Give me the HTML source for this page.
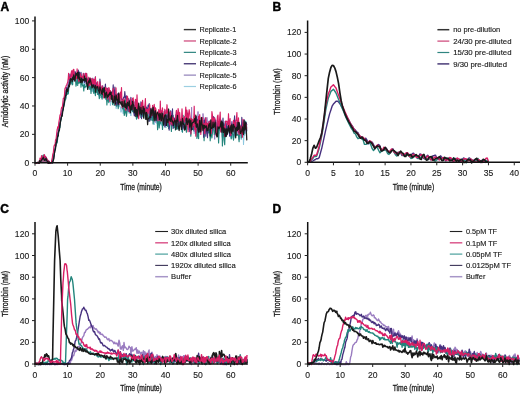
<!DOCTYPE html>
<html><head><meta charset="utf-8"><style>html,body{margin:0;padding:0;background:#fff;}svg{display:block;filter:blur(0.3px);}</style></head>
<body><svg width="520" height="394" viewBox="0 0 520 394" font-family="Liberation Sans, sans-serif">
<rect width="520" height="394" fill="#fff"/>
<path d="M39.6 162.7L41.2 160.1L42.5 158.2L43.8 156.2L45.1 156.7L46.4 157.9L47.7 160.4L49.0 162.1L50.0 162.7Z" fill="#7a2a5e" opacity="0.75"/>
<path d="M35.0 162.9L35.6 162.8L36.1 162.8L36.7 162.7L37.2 162.7L37.8 162.7L38.3 162.6L38.9 162.6L39.2 162.3L39.4 162.8L40.0 162.2L40.5 161.5L41.1 160.4L41.5 159.6L41.7 160.1L42.2 159.4L42.8 157.6L43.3 158.4L43.5 156.9L43.9 156.6L44.4 158.0L45.0 158.4L45.5 158.5L45.8 157.5L46.1 158.6L46.6 160.8L47.2 160.5L47.8 160.3L48.3 161.2L48.4 161.5L48.9 162.4L49.4 163.4L50.0 162.6L50.0 162.7L50.5 162.7L51.1 162.4L51.6 162.7L52.2 160.1L52.7 157.6L53.3 155.4L53.9 153.4L54.4 150.9L55.0 146.8L55.5 144.6L56.1 143.2L56.6 138.9L57.2 137.4L57.5 137.6L57.7 134.3L58.3 132.3L58.8 130.7L59.4 125.9L60.0 124.0L60.5 121.2L61.1 117.3L61.6 117.4L62.2 113.6L62.7 109.9L63.3 106.3L63.8 104.4L64.4 102.0L64.9 99.2L65.5 95.3L65.7 93.7L66.1 94.7L66.6 93.8L67.2 90.2L67.7 89.0L68.3 88.3L68.8 83.7L68.9 83.1L69.4 85.1L69.9 84.0L70.5 81.5L71.0 82.8L71.6 84.0L72.2 80.6L72.2 82.2L72.7 79.8L73.3 81.5L73.8 80.8L74.4 79.4L74.9 80.7L75.5 81.7L76.0 82.5L76.6 76.9L77.1 78.2L77.1 83.6L77.7 83.0L78.3 79.9L78.8 82.6L79.4 81.6L79.9 80.3L80.5 82.0L81.0 82.8L81.6 83.9L82.1 83.3L82.7 82.6L83.2 80.0L83.6 81.6L83.8 84.5L84.4 82.4L84.9 84.4L85.5 88.2L86.0 85.5L86.6 83.4L87.1 87.2L87.7 84.2L88.2 87.2L88.8 86.8L89.3 89.8L89.9 82.9L90.5 86.8L91.0 85.8L91.6 89.5L92.1 92.1L92.7 86.3L93.2 91.0L93.8 85.9L94.3 90.4L94.7 86.4L94.9 92.0L95.4 94.7L96.0 89.3L96.6 91.5L97.1 91.6L97.7 89.5L98.2 94.4L98.8 95.7L99.3 95.7L99.9 97.3L100.4 97.9L101.0 97.0L101.5 96.6L102.1 95.7L102.7 97.9L103.2 95.6L103.8 93.8L104.3 96.5L104.9 95.3L105.4 98.9L106.0 96.3L106.4 96.2L106.5 99.0L107.1 101.5L107.6 98.5L108.2 98.3L108.8 95.0L109.3 100.0L109.9 95.1L110.4 105.6L111.0 100.6L111.5 101.4L112.1 101.4L112.6 102.1L113.2 101.1L113.7 97.1L114.3 102.0L114.9 98.8L115.4 102.4L116.0 102.1L116.2 108.7L116.5 102.5L117.1 101.4L117.6 106.3L118.2 105.2L118.7 106.1L119.3 98.6L119.8 107.1L120.4 106.7L121.0 112.3L121.5 109.6L122.1 105.2L122.6 109.4L123.2 113.7L123.7 107.4L124.3 106.6L124.8 106.5L125.4 106.5L125.9 109.5L126.5 100.4L127.1 109.9L127.6 107.5L128.2 112.5L128.7 111.0L129.3 113.8L129.3 109.0L129.8 111.0L130.4 112.9L130.9 115.9L131.5 109.0L132.0 108.5L132.6 108.7L133.2 111.5L133.7 109.5L134.3 109.1L134.8 110.5L135.4 108.0L135.9 112.9L136.5 112.0L137.0 117.2L137.6 107.0L138.1 115.5L138.7 112.6L139.3 111.9L139.8 116.3L140.4 114.3L140.9 112.4L141.5 114.9L142.0 115.8L142.3 115.9L142.6 117.2L143.1 115.7L143.7 114.3L144.2 114.2L144.8 112.4L145.4 115.7L145.9 117.5L146.5 113.6L147.0 115.2L147.6 113.4L148.1 116.1L148.7 115.1L149.2 115.7L149.8 114.9L150.3 120.3L150.9 117.8L151.5 117.0L152.0 112.4L152.6 118.1L153.1 116.6L153.7 118.8L154.2 124.9L154.8 114.6L155.3 116.6L155.9 115.0L156.4 123.4L157.0 118.3L157.6 118.8L158.1 124.6L158.6 118.2L158.7 121.7L159.2 118.3L159.8 125.4L160.3 123.0L160.9 122.6L161.4 125.4L162.0 120.4L162.5 116.5L163.1 120.9L163.7 119.0L164.2 116.3L164.8 119.5L165.3 122.7L165.9 128.0L166.4 120.6L167.0 123.0L167.5 123.5L168.1 119.7L168.6 120.5L169.2 127.7L169.8 121.8L170.3 123.8L170.9 120.0L171.4 123.1L172.0 120.0L172.5 125.5L173.1 124.8L173.6 125.4L174.2 124.3L174.7 124.7L174.9 119.8L175.3 127.4L175.9 123.8L176.4 128.2L177.0 129.3L177.5 126.4L178.1 129.7L178.6 123.9L179.2 127.2L179.7 126.6L180.3 123.2L180.8 119.4L181.4 126.9L182.0 132.1L182.5 126.6L183.1 125.3L183.6 121.3L184.2 125.6L184.7 128.7L185.3 122.3L185.8 121.8L186.4 126.5L186.9 124.8L187.5 124.7L188.1 116.6L188.6 128.3L189.2 127.8L189.7 126.7L190.3 123.8L190.8 127.6L191.2 124.7L191.4 123.3L191.9 119.4L192.5 127.3L193.0 128.0L193.6 128.1L194.2 133.8L194.7 131.4L195.3 126.6L195.8 126.7L196.4 117.8L196.9 122.8L197.5 124.6L198.0 122.2L198.6 130.1L199.1 129.8L199.7 130.6L200.3 128.5L200.8 120.1L201.4 129.1L201.9 130.6L202.5 128.1L203.0 125.3L203.6 126.7L204.1 125.4L204.7 133.0L205.2 131.9L205.8 129.6L206.4 128.5L206.9 123.9L207.5 133.7L208.0 126.7L208.6 130.0L209.1 127.0L209.7 131.8L210.2 134.6L210.8 125.1L210.8 128.4L211.3 136.7L211.9 127.1L212.5 133.4L213.0 130.1L213.6 129.9L214.1 134.9L214.7 125.8L215.2 131.9L215.8 124.0L216.3 128.3L216.9 128.3L217.4 129.2L218.0 123.0L218.6 134.1L219.1 133.3L219.7 132.9L220.2 126.3L220.8 126.7L221.3 130.3L221.9 129.7L222.4 136.8L223.0 125.3L223.5 131.7L224.1 130.5L224.7 132.1L225.2 128.6L225.8 131.9L226.3 130.7L226.9 130.9L227.4 133.1L228.0 133.6L228.5 129.9L229.1 130.0L229.6 128.8L230.2 126.2L230.4 136.1L230.8 138.4L231.3 133.1L231.9 126.9L232.4 131.8L233.0 138.4L233.5 125.8L234.1 129.9L234.6 137.3L235.2 134.8L235.7 131.4L236.3 133.9L236.9 132.3L237.4 129.9L238.0 131.9L238.5 126.7L239.1 132.6L239.6 126.4L240.2 134.1L240.7 136.3L241.3 139.8L241.8 135.3L242.4 131.7L243.0 128.5L243.5 144.9L244.1 132.3L244.6 135.8L245.2 129.6L245.7 134.1L246.3 131.1L246.7 125.6L246.8 131.9" fill="none" stroke="#8cc8e0" stroke-width="1.0" stroke-linejoin="round"/>
<path d="M35.0 162.7L35.6 162.4L36.1 162.5L36.7 162.8L37.2 162.8L37.8 162.8L38.3 162.6L38.9 162.7L39.2 162.0L39.4 163.4L40.0 160.5L40.5 161.4L41.1 160.1L41.5 160.3L41.7 160.4L42.2 159.0L42.8 158.0L43.3 158.3L43.5 158.1L43.9 157.5L44.4 159.1L45.0 160.0L45.5 158.5L45.8 159.6L46.1 161.1L46.6 160.8L47.2 161.1L47.8 162.4L48.3 163.4L48.4 162.1L48.9 161.5L49.4 162.7L50.0 163.4L50.0 162.6L50.5 162.5L51.1 162.8L51.6 162.6L52.0 162.4L52.2 161.6L52.7 159.0L53.3 155.6L53.9 153.0L54.4 149.1L55.0 149.4L55.5 145.8L56.1 143.3L56.6 141.7L57.2 136.5L57.7 133.3L57.8 134.4L58.3 129.3L58.8 127.1L59.4 124.4L60.0 121.8L60.5 118.1L61.1 118.1L61.6 112.7L62.2 109.8L62.7 109.9L63.3 104.3L63.8 102.2L64.4 97.9L64.9 96.6L65.5 93.1L66.0 90.1L66.1 91.4L66.6 87.8L67.2 87.0L67.7 84.1L68.3 84.7L68.8 79.3L69.3 79.1L69.4 80.7L69.9 78.1L70.5 75.9L71.0 73.9L71.6 81.1L72.2 74.6L72.5 75.1L72.7 76.4L73.3 78.6L73.8 73.2L74.4 79.3L74.9 74.8L75.5 73.0L76.0 80.1L76.6 76.9L77.1 79.4L77.4 75.6L77.7 72.6L78.3 71.6L78.8 81.4L79.4 78.7L79.9 75.8L80.5 73.9L81.0 77.1L81.6 80.4L82.1 78.0L82.7 79.1L83.2 79.9L83.8 81.6L83.9 78.8L84.4 79.2L84.9 80.6L85.5 81.2L86.0 84.4L86.6 82.6L87.1 78.4L87.7 82.5L88.2 86.1L88.8 79.0L89.3 81.5L89.9 77.6L90.5 83.4L91.0 85.1L91.6 88.1L92.1 80.9L92.7 77.8L93.2 87.4L93.8 87.3L94.3 84.2L94.9 88.4L95.0 87.0L95.4 87.5L96.0 86.3L96.6 84.1L97.1 87.4L97.7 85.2L98.2 89.4L98.8 87.6L99.3 94.9L99.9 93.3L100.4 87.2L101.0 91.6L101.5 88.5L102.1 89.0L102.7 87.0L103.2 88.8L103.8 88.6L104.3 92.2L104.9 94.3L105.4 94.7L106.0 94.3L106.5 96.6L106.8 95.0L107.1 93.8L107.6 93.1L108.2 95.1L108.8 100.2L109.3 94.9L109.9 94.3L110.4 91.9L111.0 93.8L111.5 97.8L112.1 98.3L112.6 90.2L113.2 94.3L113.7 91.3L114.3 90.6L114.9 100.1L115.4 96.6L116.0 96.6L116.5 96.6L116.5 96.7L117.1 98.0L117.6 98.4L118.2 104.1L118.7 100.1L119.3 102.3L119.8 99.8L120.4 102.0L121.0 98.8L121.5 98.4L122.1 100.4L122.6 100.7L123.2 101.7L123.7 103.8L124.3 103.2L124.8 104.6L125.4 101.9L125.9 103.5L126.5 101.9L127.1 108.6L127.6 101.5L128.2 107.3L128.7 107.5L129.3 106.0L129.6 107.4L129.8 104.7L130.4 107.8L130.9 109.8L131.5 109.3L132.0 102.1L132.6 106.7L133.2 111.1L133.7 107.3L134.3 113.0L134.8 101.6L135.4 113.4L135.9 106.6L136.5 106.6L137.0 113.9L137.6 108.0L138.1 105.8L138.7 107.9L139.3 108.8L139.8 106.6L140.4 109.7L140.9 109.3L141.5 111.2L142.0 108.7L142.6 114.6L142.6 108.4L143.1 113.2L143.7 115.5L144.2 110.4L144.8 105.7L145.4 108.6L145.9 114.2L146.5 109.9L147.0 114.3L147.6 113.2L148.1 112.6L148.7 121.7L149.2 112.6L149.8 117.3L150.3 116.2L150.9 119.3L151.5 119.7L152.0 117.7L152.6 111.2L153.1 108.1L153.7 114.7L154.2 110.6L154.8 116.0L155.3 122.5L155.9 114.8L156.4 113.8L157.0 117.3L157.6 114.7L158.1 113.8L158.7 119.5L159.0 122.0L159.2 117.2L159.8 117.3L160.3 118.0L160.9 112.9L161.4 110.1L162.0 118.7L162.5 114.4L163.1 113.6L163.7 114.7L164.2 113.5L164.8 119.4L165.3 115.0L165.9 109.9L166.4 115.0L167.0 120.9L167.5 116.1L168.1 113.5L168.6 117.3L169.2 121.3L169.8 112.8L170.3 124.4L170.9 117.3L171.4 119.6L172.0 124.6L172.5 114.8L173.1 118.5L173.6 125.0L174.2 117.8L174.7 122.2L175.3 128.5L175.3 123.5L175.9 119.6L176.4 118.1L177.0 120.2L177.5 120.8L178.1 119.1L178.6 122.0L179.2 116.2L179.7 120.7L180.3 120.2L180.8 119.2L181.4 126.2L182.0 124.8L182.5 115.2L183.1 120.5L183.6 123.3L184.2 120.6L184.7 124.3L185.3 121.1L185.8 125.3L186.4 121.3L186.9 129.6L187.5 116.8L188.1 125.1L188.6 129.9L189.2 124.0L189.7 124.7L190.3 122.5L190.8 128.4L191.4 121.6L191.6 107.2L191.9 129.2L192.5 122.1L193.0 125.0L193.6 122.9L194.2 131.9L194.7 129.1L195.3 122.0L195.8 124.3L196.4 116.9L196.9 127.4L197.5 123.6L198.0 111.5L198.6 128.0L199.1 128.7L199.7 124.9L200.3 125.0L200.8 121.1L201.4 124.4L201.9 128.5L202.5 124.2L203.0 113.5L203.6 119.7L204.1 137.9L204.7 126.2L205.2 129.5L205.8 122.9L206.4 126.6L206.9 117.3L207.5 121.8L208.0 122.1L208.6 125.3L209.1 126.4L209.7 124.8L210.2 120.6L210.8 124.1L211.1 128.1L211.3 120.9L211.9 125.8L212.5 127.1L213.0 130.3L213.6 129.4L214.1 129.7L214.7 139.4L215.2 122.5L215.8 124.6L216.3 128.1L216.9 122.5L217.4 125.3L218.0 125.7L218.6 138.4L219.1 128.5L219.7 125.1L220.2 120.4L220.8 119.4L221.3 121.3L221.9 132.9L222.4 137.6L223.0 125.3L223.5 127.8L224.1 123.7L224.7 128.6L225.2 127.1L225.8 134.9L226.3 126.2L226.9 130.3L227.4 126.8L228.0 126.4L228.5 129.0L229.1 127.1L229.6 128.7L230.2 125.3L230.7 126.5L230.8 131.2L231.3 131.4L231.9 121.0L232.4 129.2L233.0 124.4L233.5 127.1L234.1 131.4L234.6 132.2L235.2 128.4L235.7 127.8L236.3 126.2L236.9 134.6L237.4 131.7L238.0 129.5L238.5 121.9L239.1 139.6L239.6 127.1L240.2 131.5L240.7 127.2L241.3 131.4L241.8 127.6L242.4 122.2L243.0 127.7L243.5 127.3L244.1 127.6L244.6 132.7L245.2 126.9L245.7 130.3L246.3 133.0L246.8 129.6L247.0 130.5" fill="none" stroke="#9a7cc0" stroke-width="1.0" stroke-linejoin="round"/>
<path d="M35.0 162.7L35.6 162.5L36.1 162.5L36.7 162.5L37.2 162.4L37.8 163.0L38.3 162.8L38.9 163.0L39.2 162.8L39.4 161.4L40.0 161.5L40.5 160.1L41.1 161.5L41.5 158.8L41.7 159.6L42.2 156.0L42.8 155.9L43.3 154.9L43.5 155.6L43.9 155.2L44.4 155.5L45.0 156.9L45.5 157.4L45.8 157.2L46.1 158.3L46.6 159.3L47.2 160.0L47.8 161.4L48.3 161.0L48.4 163.4L48.9 161.3L49.4 163.0L50.0 163.2L50.0 163.1L50.5 162.7L51.1 162.8L51.6 162.6L52.1 162.9L52.2 162.4L52.7 159.4L53.3 156.9L53.9 155.9L54.4 151.2L55.0 150.3L55.5 146.8L56.1 144.3L56.6 143.3L57.2 143.0L57.7 138.3L58.0 135.9L58.3 135.7L58.8 131.7L59.4 128.1L60.0 127.5L60.5 122.1L61.1 118.8L61.6 116.7L62.2 113.8L62.7 111.0L63.3 106.6L63.8 106.7L64.4 104.1L64.9 100.4L65.5 99.8L66.1 97.8L66.2 96.4L66.6 93.3L67.2 91.5L67.7 94.4L68.3 93.7L68.8 88.0L69.4 86.0L69.4 85.6L69.9 83.1L70.5 80.9L71.0 82.8L71.6 81.1L72.2 84.9L72.7 84.4L72.7 80.7L73.3 79.5L73.8 79.4L74.4 79.7L74.9 79.2L75.5 79.1L76.0 86.1L76.6 83.3L77.1 80.1L77.6 79.7L77.7 85.5L78.3 78.4L78.8 83.2L79.4 82.9L79.9 81.8L80.5 80.7L81.0 87.2L81.6 80.6L82.1 83.5L82.7 86.2L83.2 85.1L83.8 90.9L84.1 86.6L84.4 84.4L84.9 87.3L85.5 86.5L86.0 86.3L86.6 86.0L87.1 83.5L87.7 86.9L88.2 87.9L88.8 85.8L89.3 81.5L89.9 89.1L90.5 86.8L91.0 93.4L91.6 84.9L92.1 87.3L92.7 85.5L93.2 90.1L93.8 93.4L94.3 87.8L94.9 88.5L95.2 93.7L95.4 95.7L96.0 90.1L96.6 92.3L97.1 84.0L97.7 94.4L98.2 94.4L98.8 93.5L99.3 98.7L99.9 96.6L100.4 88.8L101.0 94.8L101.5 96.7L102.1 99.2L102.7 93.5L103.2 93.6L103.8 95.2L104.3 97.7L104.9 95.7L105.4 95.8L106.0 99.6L106.5 95.6L106.9 104.9L107.1 102.3L107.6 99.3L108.2 98.9L108.8 102.7L109.3 98.0L109.9 95.8L110.4 98.1L111.0 99.2L111.5 97.4L112.1 99.1L112.6 104.7L113.2 101.7L113.7 96.8L114.3 105.5L114.9 101.6L115.4 103.5L116.0 105.5L116.5 106.2L116.7 102.4L117.1 101.8L117.6 102.2L118.2 108.7L118.7 104.9L119.3 102.9L119.8 101.0L120.4 102.3L121.0 102.0L121.5 101.3L122.1 102.6L122.6 108.9L123.2 106.0L123.7 109.1L124.3 115.5L124.8 113.2L125.4 99.7L125.9 111.8L126.5 116.3L127.1 110.4L127.6 102.9L128.2 109.0L128.7 107.6L129.3 110.4L129.8 110.0L129.8 104.9L130.4 106.9L130.9 110.5L131.5 107.0L132.0 106.6L132.6 111.7L133.2 110.1L133.7 110.4L134.3 114.2L134.8 107.4L135.4 112.7L135.9 114.7L136.5 119.1L137.0 117.7L137.6 107.0L138.1 117.7L138.7 111.8L139.3 115.2L139.8 111.9L140.4 111.8L140.9 117.5L141.5 115.8L142.0 114.5L142.6 114.7L142.8 115.3L143.1 116.6L143.7 112.9L144.2 110.3L144.8 113.6L145.4 119.0L145.9 114.5L146.5 116.1L147.0 114.6L147.6 109.0L148.1 117.7L148.7 117.0L149.2 120.8L149.8 118.5L150.3 119.8L150.9 110.9L151.5 116.5L152.0 120.4L152.6 110.0L153.1 123.9L153.7 114.8L154.2 114.3L154.8 116.3L155.3 120.1L155.9 119.7L156.4 120.7L157.0 116.1L157.6 129.6L158.1 122.0L158.7 119.3L159.1 122.6L159.2 128.0L159.8 121.3L160.3 123.7L160.9 117.0L161.4 114.5L162.0 120.5L162.5 129.5L163.1 121.9L163.7 125.3L164.2 118.3L164.8 114.0L165.3 120.2L165.9 112.7L166.4 115.1L167.0 118.9L167.5 126.1L168.1 121.4L168.6 128.6L169.2 117.4L169.8 121.7L170.3 116.1L170.9 121.1L171.4 131.5L172.0 119.7L172.5 118.5L173.1 115.3L173.6 127.6L174.2 127.5L174.7 123.1L175.3 128.4L175.4 130.0L175.9 128.7L176.4 111.6L177.0 126.8L177.5 128.8L178.1 126.2L178.6 124.2L179.2 118.2L179.7 120.0L180.3 120.8L180.8 124.4L181.4 124.0L182.0 127.9L182.5 132.2L183.1 115.2L183.6 127.3L184.2 120.3L184.7 126.9L185.3 125.9L185.8 126.3L186.4 132.3L186.9 126.1L187.5 123.9L188.1 121.8L188.6 123.6L189.2 121.1L189.7 124.7L190.3 126.3L190.8 136.2L191.4 129.2L191.7 118.8L191.9 126.0L192.5 122.7L193.0 127.8L193.6 130.2L194.2 116.8L194.7 125.3L195.3 119.7L195.8 124.6L196.4 128.8L196.9 138.5L197.5 127.0L198.0 135.3L198.6 138.7L199.1 121.6L199.7 124.2L200.3 124.7L200.8 127.7L201.4 128.3L201.9 126.1L202.5 127.5L203.0 128.0L203.6 124.8L204.1 140.7L204.7 124.2L205.2 131.9L205.8 124.6L206.4 123.1L206.9 133.2L207.5 125.2L208.0 125.3L208.6 132.9L209.1 132.1L209.7 129.0L210.2 140.8L210.8 132.1L211.3 129.0L211.3 132.2L211.9 138.0L212.5 132.0L213.0 122.6L213.6 123.6L214.1 130.9L214.7 134.3L215.2 130.5L215.8 130.4L216.3 133.9L216.9 132.3L217.4 127.6L218.0 126.1L218.6 142.9L219.1 126.0L219.7 130.2L220.2 125.2L220.8 131.1L221.3 128.9L221.9 123.0L222.4 145.9L223.0 123.4L223.5 130.4L224.1 140.4L224.7 144.7L225.2 129.9L225.8 136.7L226.3 126.6L226.9 130.6L227.4 132.4L228.0 126.8L228.5 130.9L229.1 128.2L229.6 127.8L230.2 130.4L230.8 128.2L230.9 128.2L231.3 138.9L231.9 133.5L232.4 132.8L233.0 134.1L233.5 140.1L234.1 135.1L234.6 130.6L235.2 131.3L235.7 124.7L236.3 135.3L236.9 134.5L237.4 135.2L238.0 134.0L238.5 135.4L239.1 141.7L239.6 130.8L240.2 127.6L240.7 127.0L241.3 137.9L241.8 133.5L242.4 123.4L243.0 133.2L243.5 130.9L244.1 133.4L244.6 127.7L245.2 127.9L245.7 121.2L246.3 130.3L246.8 130.6" fill="none" stroke="#23857c" stroke-width="1.15" stroke-linejoin="round"/>
<path d="M35.0 162.3L35.6 163.4L36.1 162.5L36.7 162.7L37.2 162.4L37.8 162.6L38.3 162.3L38.9 162.7L39.2 163.2L39.4 161.9L40.0 161.3L40.5 161.4L41.1 160.7L41.5 159.2L41.7 159.0L42.2 159.5L42.8 158.6L43.3 159.3L43.5 155.7L43.9 157.8L44.4 156.5L45.0 157.7L45.5 156.4L45.8 157.0L46.1 158.6L46.6 158.2L47.2 161.4L47.8 160.0L48.3 163.4L48.4 161.7L48.9 161.2L49.4 162.2L50.0 163.1L50.0 162.9L50.5 162.8L51.1 162.4L51.6 162.4L52.2 162.8L52.6 163.1L52.7 161.8L53.3 161.2L53.9 157.0L54.4 154.5L55.0 149.5L55.5 147.4L56.1 144.2L56.6 141.6L57.2 140.1L57.7 135.5L58.3 131.4L58.5 132.4L58.8 129.6L59.4 127.7L60.0 123.1L60.5 120.7L61.1 117.4L61.6 115.2L62.2 110.4L62.7 110.3L63.3 107.3L63.8 104.7L64.4 100.1L64.9 98.9L65.5 96.0L66.1 91.1L66.6 87.5L66.6 88.2L67.2 91.2L67.7 88.1L68.3 86.7L68.8 85.3L69.4 81.5L69.9 74.1L69.9 79.6L70.5 80.0L71.0 75.5L71.6 76.4L72.2 75.5L72.7 76.9L73.2 74.5L73.3 73.3L73.8 79.6L74.4 78.8L74.9 71.6L75.5 72.2L76.0 75.9L76.6 77.3L77.1 75.0L77.7 77.8L78.1 75.4L78.3 70.1L78.8 74.6L79.4 72.0L79.9 76.2L80.5 74.8L81.0 72.2L81.6 80.2L82.1 77.7L82.7 77.5L83.2 76.6L83.8 73.2L84.4 76.0L84.6 82.4L84.9 79.1L85.5 81.2L86.0 81.6L86.6 73.4L87.1 82.7L87.7 79.2L88.2 82.4L88.8 78.0L89.3 79.9L89.9 80.9L90.5 81.8L91.0 78.5L91.6 85.0L92.1 84.7L92.7 86.3L93.2 79.1L93.8 84.4L94.3 87.0L94.9 85.5L95.4 76.8L95.7 85.0L96.0 82.2L96.6 83.7L97.1 85.5L97.7 88.0L98.2 87.2L98.8 87.7L99.3 93.9L99.9 79.0L100.4 84.6L101.0 87.5L101.5 88.9L102.1 91.1L102.7 85.9L103.2 89.9L103.8 88.0L104.3 94.5L104.9 89.1L105.4 84.0L106.0 91.9L106.5 88.7L107.1 91.5L107.4 88.2L107.6 88.4L108.2 92.1L108.8 94.4L109.3 91.9L109.9 93.0L110.4 95.5L111.0 92.1L111.5 92.5L112.1 97.3L112.6 94.9L113.2 84.8L113.7 92.3L114.3 95.1L114.9 87.0L115.4 97.6L116.0 104.9L116.5 103.3L117.1 102.2L117.2 96.0L117.6 93.7L118.2 105.2L118.7 93.8L119.3 102.5L119.8 97.5L120.4 97.0L121.0 97.4L121.5 99.3L122.1 99.0L122.6 104.1L123.2 99.2L123.7 97.0L124.3 97.5L124.8 91.6L125.4 97.5L125.9 99.1L126.5 95.9L127.1 101.5L127.6 107.5L128.2 111.4L128.7 98.5L129.3 101.5L129.8 100.7L130.3 105.4L130.4 102.9L130.9 97.3L131.5 103.4L132.0 109.2L132.6 106.8L133.2 100.1L133.7 109.9L134.3 115.9L134.8 115.1L135.4 111.6L135.9 103.6L136.5 106.6L137.0 110.1L137.6 112.4L138.1 108.1L138.7 108.5L139.3 110.4L139.8 109.4L140.4 111.7L140.9 101.7L141.5 118.6L142.0 108.9L142.6 113.7L143.1 107.0L143.3 110.9L143.7 108.6L144.2 108.1L144.8 109.6L145.4 106.5L145.9 116.4L146.5 107.0L147.0 112.0L147.6 109.7L148.1 105.0L148.7 107.0L149.2 103.6L149.8 121.3L150.3 116.1L150.9 108.3L151.5 117.2L152.0 113.4L152.6 105.6L153.1 109.3L153.7 117.2L154.2 111.4L154.8 110.8L155.3 113.4L155.9 114.3L156.4 113.4L157.0 120.6L157.6 113.8L158.1 118.7L158.7 113.0L159.2 113.0L159.6 118.9L159.8 112.4L160.3 113.6L160.9 115.5L161.4 112.3L162.0 117.0L162.5 117.0L163.1 115.6L163.7 116.3L164.2 111.2L164.8 126.9L165.3 117.9L165.9 125.7L166.4 119.2L167.0 115.9L167.5 117.2L168.1 113.0L168.6 116.1L169.2 130.2L169.8 123.0L170.3 110.9L170.9 111.1L171.4 117.9L172.0 125.7L172.5 108.7L173.1 128.5L173.6 117.6L174.2 119.4L174.7 118.2L175.3 125.0L175.9 121.5L175.9 114.7L176.4 122.1L177.0 126.4L177.5 120.1L178.1 119.7L178.6 120.9L179.2 124.1L179.7 117.9L180.3 121.1L180.8 126.2L181.4 119.7L182.0 121.0L182.5 120.2L183.1 129.2L183.6 124.8L184.2 119.0L184.7 116.8L185.3 119.7L185.8 120.7L186.4 118.0L186.9 116.8L187.5 113.0L188.1 119.5L188.6 124.6L189.2 119.6L189.7 131.6L190.3 121.8L190.8 124.4L191.4 122.3L191.9 119.9L192.2 122.1L192.5 129.6L193.0 124.2L193.6 126.5L194.2 122.7L194.7 120.9L195.3 127.6L195.8 119.2L196.4 116.5L196.9 124.4L197.5 119.5L198.0 130.6L198.6 126.0L199.1 118.6L199.7 132.2L200.3 126.1L200.8 128.1L201.4 118.0L201.9 118.2L202.5 127.0L203.0 123.4L203.6 137.1L204.1 120.0L204.7 122.6L205.2 117.8L205.8 136.3L206.4 122.8L206.9 126.4L207.5 137.7L208.0 128.3L208.6 125.3L209.1 121.0L209.7 124.1L210.2 127.8L210.8 123.1L211.3 125.9L211.8 128.7L211.9 130.5L212.5 124.8L213.0 124.8L213.6 116.5L214.1 127.9L214.7 117.8L215.2 124.1L215.8 120.0L216.3 130.4L216.9 130.3L217.4 127.6L218.0 121.7L218.6 125.3L219.1 122.5L219.7 124.7L220.2 121.3L220.8 125.4L221.3 129.1L221.9 124.0L222.4 126.2L223.0 118.0L223.5 127.5L224.1 126.2L224.7 128.4L225.2 121.2L225.8 122.6L226.3 123.8L226.9 133.3L227.4 134.7L228.0 125.9L228.5 123.7L229.1 120.0L229.6 136.3L230.2 128.3L230.8 135.9L231.3 132.4L231.4 128.7L231.9 122.8L232.4 130.3L233.0 131.2L233.5 129.3L234.1 121.5L234.6 115.7L235.2 135.4L235.7 129.1L236.3 129.9L236.9 122.0L237.4 125.7L238.0 120.2L238.5 132.9L239.1 127.9L239.6 130.2L240.2 133.4L240.7 128.8L241.3 133.9L241.8 117.3L242.4 126.0L243.0 133.1L243.5 131.1L244.1 119.6L244.6 130.6L245.2 124.8L245.7 125.3L246.3 122.8L246.8 125.1" fill="none" stroke="#46307e" stroke-width="1.1" stroke-linejoin="round"/>
<path d="M35.0 162.5L35.6 163.0L36.1 163.2L36.7 163.4L37.2 162.8L37.8 162.3L38.3 162.7L38.9 162.6L39.2 161.3L39.4 163.4L40.0 158.0L40.5 161.9L41.1 159.4L41.5 155.6L41.7 159.2L42.2 158.0L42.8 158.0L43.3 156.0L43.5 159.0L43.9 157.3L44.4 154.5L45.0 156.8L45.5 157.7L45.8 157.1L46.1 157.5L46.6 158.8L47.2 159.2L47.8 163.1L48.3 161.0L48.4 162.8L48.9 161.1L49.4 162.4L50.0 163.4L50.0 162.7L50.5 163.1L51.1 162.3L51.3 162.7L51.6 160.7L52.2 158.5L52.7 154.5L53.3 152.8L53.9 146.7L54.4 144.8L55.0 145.6L55.5 140.0L56.1 138.7L56.6 134.0L57.2 129.1L57.2 130.5L57.7 126.8L58.3 128.1L58.8 122.5L59.4 119.3L60.0 114.9L60.5 115.2L61.1 110.0L61.6 107.3L62.2 108.0L62.7 104.1L63.3 98.3L63.8 98.5L64.4 95.6L64.9 88.6L65.3 87.6L65.5 88.1L66.1 85.8L66.6 85.0L67.2 83.5L67.7 82.3L68.3 77.7L68.6 73.4L68.8 79.3L69.4 77.2L69.9 77.0L70.5 79.9L71.0 73.8L71.6 70.9L71.9 76.7L72.2 70.7L72.7 75.7L73.3 69.5L73.8 69.3L74.4 75.0L74.9 80.9L75.5 74.9L76.0 78.8L76.6 78.5L76.8 74.6L77.1 68.8L77.7 74.5L78.3 75.3L78.8 81.7L79.4 77.4L79.9 80.7L80.5 73.8L81.0 78.0L81.6 76.5L82.1 76.7L82.7 77.7L83.2 73.6L83.3 75.4L83.8 78.8L84.4 77.3L84.9 76.1L85.5 73.2L86.0 78.4L86.6 73.5L87.1 81.9L87.7 80.8L88.2 86.1L88.8 77.2L89.3 85.0L89.9 85.4L90.5 78.1L91.0 84.0L91.6 85.2L92.1 78.6L92.7 83.6L93.2 79.4L93.8 85.1L94.3 80.8L94.4 79.4L94.9 83.8L95.4 77.0L96.0 86.5L96.6 86.1L97.1 85.2L97.7 81.6L98.2 87.4L98.8 88.4L99.3 85.8L99.9 81.9L100.4 89.4L101.0 93.5L101.5 88.8L102.1 85.9L102.7 91.3L103.2 88.8L103.8 97.9L104.3 89.9L104.9 89.9L105.4 87.9L106.0 89.6L106.1 87.7L106.5 95.8L107.1 88.6L107.6 99.3L108.2 94.9L108.8 87.5L109.3 88.9L109.9 101.5L110.4 90.6L111.0 95.6L111.5 97.5L112.1 93.3L112.6 93.9L113.2 88.3L113.7 101.8L114.3 97.4L114.9 96.3L115.4 104.6L115.9 90.7L116.0 87.9L116.5 99.5L117.1 95.0L117.6 98.4L118.2 96.2L118.7 101.0L119.3 94.1L119.8 104.0L120.4 92.1L121.0 97.3L121.5 87.5L122.1 107.7L122.6 100.4L123.2 106.6L123.7 101.2L124.3 98.7L124.8 105.7L125.4 108.6L125.9 110.4L126.5 101.0L127.1 96.0L127.6 96.8L128.2 102.9L128.7 108.2L128.9 105.3L129.3 111.3L129.8 111.9L130.4 98.7L130.9 105.8L131.5 103.0L132.0 106.3L132.6 98.3L133.2 97.9L133.7 109.6L134.3 107.7L134.8 109.6L135.4 99.4L135.9 100.0L136.5 108.4L137.0 94.9L137.6 107.2L138.1 114.0L138.7 118.6L139.3 108.8L139.8 106.6L140.4 111.7L140.9 106.8L141.5 102.6L142.0 109.6L142.0 104.7L142.6 100.4L143.1 106.9L143.7 113.0L144.2 107.6L144.8 107.2L145.4 98.6L145.9 112.9L146.5 119.2L147.0 109.2L147.6 109.2L148.1 113.5L148.7 108.2L149.2 109.8L149.8 104.9L150.3 116.6L150.9 116.0L151.5 112.4L152.0 115.3L152.6 105.3L153.1 109.5L153.7 113.1L154.2 104.3L154.8 110.4L155.3 107.7L155.9 109.0L156.4 114.6L157.0 114.8L157.6 114.1L158.1 120.7L158.3 116.4L158.7 109.5L159.2 112.8L159.8 120.3L160.3 101.0L160.9 121.1L161.4 111.5L162.0 111.1L162.5 107.9L163.1 120.8L163.7 115.7L164.2 117.1L164.8 109.2L165.3 113.9L165.9 113.8L166.4 113.2L167.0 104.7L167.5 112.6L168.1 111.5L168.6 122.7L169.2 112.9L169.8 124.9L170.3 111.5L170.9 116.6L171.4 123.1L172.0 124.8L172.5 118.4L173.1 117.2L173.6 121.6L174.2 120.3L174.6 120.3L174.7 121.7L175.3 119.6L175.9 116.8L176.4 110.4L177.0 114.6L177.5 122.4L178.1 108.5L178.6 111.4L179.2 120.6L179.7 112.5L180.3 122.6L180.8 124.1L181.4 124.0L182.0 108.9L182.5 118.6L183.1 117.5L183.6 119.2L184.2 122.3L184.7 116.6L185.3 115.4L185.8 107.1L186.4 125.6L186.9 110.0L187.5 115.8L188.1 131.7L188.6 113.9L189.2 109.7L189.7 113.2L190.3 119.0L190.8 119.6L190.9 134.0L191.4 118.6L191.9 119.7L192.5 127.2L193.0 119.7L193.6 125.6L194.2 106.2L194.7 129.5L195.3 127.5L195.8 136.1L196.4 124.4L196.9 121.1L197.5 122.0L198.0 126.5L198.6 116.4L199.1 120.8L199.7 114.6L200.3 123.4L200.8 134.5L201.4 123.8L201.9 129.7L202.5 117.5L203.0 127.2L203.6 124.9L204.1 123.5L204.7 133.7L205.2 126.2L205.8 117.9L206.4 127.7L206.9 125.1L207.5 123.0L208.0 128.7L208.6 126.3L209.1 121.5L209.7 127.1L210.2 124.3L210.5 125.6L210.8 131.7L211.3 133.5L211.9 111.6L212.5 115.7L213.0 125.8L213.6 118.7L214.1 117.7L214.7 118.8L215.2 127.7L215.8 134.9L216.3 133.8L216.9 127.0L217.4 116.5L218.0 115.1L218.6 127.2L219.1 127.9L219.7 117.7L220.2 112.0L220.8 132.0L221.3 122.8L221.9 125.0L222.4 128.2L223.0 128.2L223.5 128.4L224.1 126.2L224.7 136.5L225.2 126.3L225.8 121.1L226.3 121.4L226.9 121.2L227.4 124.3L228.0 125.3L228.5 113.7L229.1 127.9L229.6 125.7L230.1 118.5L230.2 126.6L230.8 135.5L231.3 130.6L231.9 129.8L232.4 128.0L233.0 129.9L233.5 120.3L234.1 122.3L234.6 123.8L235.2 129.7L235.7 120.2L236.3 120.5L236.9 112.5L237.4 131.2L238.0 127.8L238.5 117.9L239.1 134.4L239.6 125.4L240.2 125.7L240.7 126.8L241.3 133.5L241.8 127.0L242.4 137.2L243.0 119.4L243.5 130.6L244.1 126.3L244.6 127.5L245.2 126.2L245.7 126.6L246.3 124.7L246.4 129.9L246.8 127.3" fill="none" stroke="#d81e64" stroke-width="1.15" stroke-linejoin="round"/>
<path d="M35.0 163.0L35.6 162.9L36.1 162.6L36.7 162.8L37.2 162.6L37.8 162.5L38.3 163.0L38.9 162.5L39.2 163.2L39.4 160.6L40.0 161.3L40.5 161.9L41.1 160.7L41.5 160.3L41.7 160.1L42.2 158.6L42.8 158.8L43.3 157.2L43.5 158.0L43.9 158.8L44.4 160.3L45.0 160.5L45.5 159.2L45.8 158.8L46.1 158.5L46.6 160.9L47.2 160.9L47.8 162.3L48.3 162.5L48.4 163.4L48.9 161.7L49.4 163.2L50.0 162.8L50.0 162.6L50.5 162.6L51.1 163.0L51.6 162.3L52.2 162.5L52.5 162.6L52.7 161.5L53.3 160.7L53.9 158.0L54.4 153.5L55.0 150.4L55.5 148.8L56.1 142.9L56.6 142.1L57.2 138.6L57.7 136.0L58.3 135.9L58.3 133.1L58.8 131.0L59.4 130.3L60.0 124.9L60.5 121.6L61.1 118.8L61.6 115.8L62.2 116.1L62.7 111.7L63.3 109.2L63.8 105.5L64.4 102.6L64.9 98.4L65.5 95.9L66.1 95.1L66.5 90.6L66.6 89.3L67.2 89.3L67.7 91.5L68.3 87.8L68.8 85.1L69.4 86.7L69.7 82.2L69.9 84.6L70.5 79.0L71.0 78.6L71.6 79.6L72.2 81.7L72.7 77.3L73.0 79.1L73.3 79.3L73.8 74.9L74.4 79.4L74.9 81.0L75.5 75.7L76.0 73.3L76.6 73.7L77.1 75.7L77.7 72.4L77.9 78.5L78.3 72.4L78.8 72.9L79.4 79.3L79.9 77.7L80.5 82.3L81.0 81.9L81.6 78.2L82.1 82.9L82.7 79.7L83.2 79.3L83.8 80.5L84.4 78.6L84.4 76.1L84.9 80.9L85.5 79.1L86.0 78.1L86.6 83.6L87.1 84.4L87.7 89.4L88.2 82.2L88.8 80.8L89.3 82.8L89.9 78.6L90.5 80.4L91.0 82.7L91.6 85.3L92.1 87.9L92.7 85.5L93.2 84.8L93.8 86.7L94.3 87.6L94.9 88.2L95.4 85.5L95.5 92.2L96.0 88.6L96.6 87.9L97.1 86.5L97.7 86.8L98.2 89.7L98.8 91.1L99.3 93.1L99.9 86.8L100.4 88.7L101.0 90.2L101.5 93.2L102.1 94.7L102.7 88.4L103.2 92.1L103.8 91.0L104.3 87.5L104.9 97.6L105.4 95.7L106.0 92.7L106.5 92.2L107.1 97.6L107.3 94.8L107.6 96.6L108.2 96.8L108.8 94.1L109.3 95.0L109.9 92.3L110.4 94.3L111.0 91.8L111.5 99.2L112.1 95.7L112.6 101.7L113.2 102.8L113.7 102.2L114.3 95.9L114.9 97.8L115.4 103.9L116.0 94.9L116.5 96.3L117.0 100.2L117.1 100.4L117.6 100.0L118.2 104.1L118.7 93.0L119.3 102.3L119.8 101.8L120.4 102.5L121.0 103.9L121.5 105.0L122.1 101.3L122.6 106.7L123.2 106.4L123.7 105.9L124.3 100.9L124.8 107.2L125.4 107.5L125.9 103.4L126.5 108.6L127.1 106.2L127.6 102.4L128.2 104.3L128.7 105.9L129.3 101.1L129.8 108.0L130.1 108.8L130.4 112.8L130.9 107.0L131.5 105.2L132.0 109.9L132.6 101.3L133.2 104.5L133.7 105.1L134.3 112.7L134.8 107.8L135.4 107.7L135.9 116.4L136.5 109.6L137.0 110.6L137.6 116.1L138.1 108.5L138.7 103.2L139.3 108.0L139.8 114.0L140.4 112.1L140.9 107.4L141.5 114.7L142.0 110.6L142.6 112.0L143.1 111.7L143.1 106.4L143.7 118.1L144.2 108.4L144.8 111.9L145.4 113.4L145.9 119.4L146.5 112.3L147.0 115.1L147.6 124.7L148.1 119.0L148.7 118.6L149.2 118.0L149.8 116.7L150.3 117.7L150.9 108.9L151.5 110.9L152.0 115.4L152.6 110.0L153.1 107.3L153.7 113.7L154.2 120.8L154.8 114.5L155.3 110.6L155.9 120.1L156.4 116.5L157.0 113.0L157.6 112.1L158.1 113.6L158.7 115.6L159.2 117.8L159.4 119.6L159.8 113.5L160.3 113.9L160.9 119.6L161.4 120.6L162.0 113.0L162.5 114.2L163.1 121.3L163.7 125.0L164.2 118.1L164.8 115.5L165.3 115.0L165.9 115.7L166.4 125.4L167.0 119.1L167.5 121.0L168.1 122.6L168.6 109.0L169.2 119.9L169.8 119.0L170.3 121.4L170.9 117.5L171.4 115.6L172.0 121.8L172.5 120.9L173.1 122.8L173.6 125.3L174.2 122.0L174.7 119.9L175.3 121.4L175.8 122.6L175.9 129.5L176.4 120.3L177.0 121.1L177.5 115.4L178.1 124.8L178.6 128.0L179.2 130.5L179.7 125.1L180.3 122.8L180.8 121.5L181.4 129.5L182.0 125.2L182.5 118.5L183.1 122.7L183.6 124.5L184.2 124.8L184.7 130.1L185.3 129.5L185.8 125.8L186.4 118.2L186.9 118.6L187.5 124.4L188.1 121.1L188.6 122.1L189.2 118.9L189.7 127.2L190.3 123.0L190.8 120.1L191.4 130.0L191.9 124.8L192.1 123.4L192.5 122.7L193.0 122.3L193.6 122.1L194.2 120.3L194.7 118.7L195.3 123.3L195.8 115.2L196.4 127.3L196.9 126.1L197.5 123.8L198.0 128.9L198.6 132.1L199.1 131.4L199.7 120.4L200.3 128.7L200.8 131.8L201.4 117.5L201.9 124.3L202.5 125.2L203.0 130.5L203.6 125.1L204.1 128.6L204.7 125.4L205.2 126.7L205.8 127.7L206.4 125.8L206.9 130.9L207.5 128.8L208.0 130.6L208.6 125.4L209.1 124.1L209.7 123.7L210.2 136.0L210.8 119.8L211.3 128.5L211.6 128.2L211.9 127.9L212.5 128.0L213.0 122.2L213.6 127.3L214.1 126.6L214.7 123.7L215.2 122.1L215.8 132.6L216.3 133.6L216.9 136.8L217.4 136.7L218.0 126.9L218.6 127.9L219.1 128.5L219.7 126.9L220.2 127.1L220.8 123.2L221.3 121.0L221.9 132.2L222.4 122.0L223.0 124.0L223.5 132.4L224.1 128.0L224.7 130.8L225.2 136.5L225.8 128.8L226.3 136.3L226.9 128.9L227.4 133.8L228.0 130.7L228.5 125.7L229.1 128.8L229.6 133.0L230.2 128.5L230.8 126.5L231.2 125.3L231.3 133.3L231.9 124.6L232.4 130.4L233.0 132.1L233.5 124.4L234.1 126.9L234.6 126.7L235.2 129.2L235.7 137.8L236.3 127.7L236.9 127.3L237.4 130.4L238.0 122.3L238.5 129.3L239.1 122.3L239.6 124.6L240.2 132.9L240.7 133.6L241.3 131.3L241.8 130.2L242.4 126.9L243.0 132.7L243.5 134.7L244.1 120.5L244.6 129.9L245.2 128.8L245.7 122.3L246.3 129.6L246.8 140.4" fill="none" stroke="#1a1a1a" stroke-width="1.25" stroke-linejoin="round"/>
<line x1="35.00" y1="16.5" x2="35.00" y2="163.45" stroke="#111" stroke-width="1.5"/>
<line x1="34.25" y1="162.70" x2="247.8" y2="162.70" stroke="#111" stroke-width="1.5"/>
<line x1="32.00" y1="162.70" x2="35.00" y2="162.70" stroke="#222" stroke-width="1"/>
<text transform="translate(29.2,165.70)" text-anchor="end" font-size="8.6" fill="#1a1a1a" stroke="#1a1a1a" stroke-width="0.12">0</text>
<line x1="32.00" y1="134.34" x2="35.00" y2="134.34" stroke="#222" stroke-width="1"/>
<text transform="translate(29.2,137.34)" text-anchor="end" font-size="8.6" fill="#1a1a1a" stroke="#1a1a1a" stroke-width="0.12">20</text>
<line x1="32.00" y1="105.98" x2="35.00" y2="105.98" stroke="#222" stroke-width="1"/>
<text transform="translate(29.2,108.98)" text-anchor="end" font-size="8.6" fill="#1a1a1a" stroke="#1a1a1a" stroke-width="0.12">40</text>
<line x1="32.00" y1="77.62" x2="35.00" y2="77.62" stroke="#222" stroke-width="1"/>
<text transform="translate(29.2,80.62)" text-anchor="end" font-size="8.6" fill="#1a1a1a" stroke="#1a1a1a" stroke-width="0.12">60</text>
<line x1="32.00" y1="49.26" x2="35.00" y2="49.26" stroke="#222" stroke-width="1"/>
<text transform="translate(29.2,52.26)" text-anchor="end" font-size="8.6" fill="#1a1a1a" stroke="#1a1a1a" stroke-width="0.12">80</text>
<line x1="32.00" y1="20.90" x2="35.00" y2="20.90" stroke="#222" stroke-width="1"/>
<text transform="translate(29.2,23.90)" text-anchor="end" font-size="8.6" fill="#1a1a1a" stroke="#1a1a1a" stroke-width="0.12">100</text>
<line x1="35.00" y1="162.70" x2="35.00" y2="165.70" stroke="#222" stroke-width="1"/>
<text transform="translate(35.00,176.3)" text-anchor="middle" font-size="8.6" fill="#1a1a1a" stroke="#1a1a1a" stroke-width="0.12">0</text>
<line x1="67.62" y1="162.70" x2="67.62" y2="165.70" stroke="#222" stroke-width="1"/>
<text transform="translate(67.62,176.3)" text-anchor="middle" font-size="8.6" fill="#1a1a1a" stroke="#1a1a1a" stroke-width="0.12">10</text>
<line x1="100.24" y1="162.70" x2="100.24" y2="165.70" stroke="#222" stroke-width="1"/>
<text transform="translate(100.24,176.3)" text-anchor="middle" font-size="8.6" fill="#1a1a1a" stroke="#1a1a1a" stroke-width="0.12">20</text>
<line x1="132.86" y1="162.70" x2="132.86" y2="165.70" stroke="#222" stroke-width="1"/>
<text transform="translate(132.86,176.3)" text-anchor="middle" font-size="8.6" fill="#1a1a1a" stroke="#1a1a1a" stroke-width="0.12">30</text>
<line x1="165.48" y1="162.70" x2="165.48" y2="165.70" stroke="#222" stroke-width="1"/>
<text transform="translate(165.48,176.3)" text-anchor="middle" font-size="8.6" fill="#1a1a1a" stroke="#1a1a1a" stroke-width="0.12">40</text>
<line x1="198.10" y1="162.70" x2="198.10" y2="165.70" stroke="#222" stroke-width="1"/>
<text transform="translate(198.10,176.3)" text-anchor="middle" font-size="8.6" fill="#1a1a1a" stroke="#1a1a1a" stroke-width="0.12">50</text>
<line x1="230.72" y1="162.70" x2="230.72" y2="165.70" stroke="#222" stroke-width="1"/>
<text transform="translate(230.72,176.3)" text-anchor="middle" font-size="8.6" fill="#1a1a1a" stroke="#1a1a1a" stroke-width="0.12">60</text>
<text x="141.1" y="190.0" text-anchor="middle" font-size="9.2" fill="#1a1a1a" stroke="#1a1a1a" stroke-width="0.3" textLength="41.5" lengthAdjust="spacingAndGlyphs">Time (minute)</text>
<text transform="translate(8.2,91.5) rotate(-90)" x="0" y="0" text-anchor="middle" font-size="9.2" fill="#1a1a1a" stroke="#1a1a1a" stroke-width="0.3" textLength="71.5" lengthAdjust="spacingAndGlyphs">Amidolytic activity (nM)</text>
<text x="0.5" y="11.2" font-size="12" font-weight="bold" fill="#000" stroke="#000" stroke-width="0.45">A</text>
<line x1="183.8" y1="29.60" x2="196" y2="29.60" stroke="#333333" stroke-width="1.4"/>
<text x="199.4" y="32.30" font-size="8.1" fill="#1a1a1a" stroke="#1a1a1a" stroke-width="0.15" textLength="36.8" lengthAdjust="spacingAndGlyphs">Replicate-1</text>
<line x1="183.8" y1="40.98" x2="196" y2="40.98" stroke="#c8306a" stroke-width="1.1"/>
<text x="199.4" y="43.68" font-size="8.1" fill="#1a1a1a" stroke="#1a1a1a" stroke-width="0.15" textLength="37.2" lengthAdjust="spacingAndGlyphs">Replicate-2</text>
<line x1="183.8" y1="52.36" x2="196" y2="52.36" stroke="#2f8580" stroke-width="1.2"/>
<text x="199.4" y="55.06" font-size="8.1" fill="#1a1a1a" stroke="#1a1a1a" stroke-width="0.15" textLength="37.2" lengthAdjust="spacingAndGlyphs">Replicate-3</text>
<line x1="183.8" y1="63.74" x2="196" y2="63.74" stroke="#4a3c78" stroke-width="1.4"/>
<text x="199.4" y="66.44" font-size="8.1" fill="#1a1a1a" stroke="#1a1a1a" stroke-width="0.15" textLength="37.2" lengthAdjust="spacingAndGlyphs">Replicate-4</text>
<line x1="183.8" y1="75.12" x2="196" y2="75.12" stroke="#9080b8" stroke-width="1.2"/>
<text x="199.4" y="77.82" font-size="8.1" fill="#1a1a1a" stroke="#1a1a1a" stroke-width="0.15" textLength="37.2" lengthAdjust="spacingAndGlyphs">Replicate-5</text>
<line x1="183.8" y1="86.50" x2="196" y2="86.50" stroke="#9ccfe2" stroke-width="1.2"/>
<text x="199.4" y="89.20" font-size="8.1" fill="#1a1a1a" stroke="#1a1a1a" stroke-width="0.15" textLength="37.2" lengthAdjust="spacingAndGlyphs">Replicate-6</text>
<path d="M307.6 162.4L308.9 162.4L310.2 162.4L311.5 161.7L312.8 161.0L314.1 160.1L315.4 159.5L316.6 158.7L317.9 158.7L319.2 157.6L320.5 152.8L321.8 148.1L323.1 142.2L324.4 136.2L325.7 130.2L327.0 124.6L328.3 119.0L329.6 113.9L330.9 110.0L332.1 106.2L333.4 104.1L334.7 102.7L336.0 101.3L337.3 101.2L338.6 102.0L339.9 103.7L341.2 106.0L342.5 108.1L343.8 110.7L345.1 113.2L346.4 115.6L347.6 117.9L348.9 120.4L350.2 122.9L351.5 125.0L352.8 126.7L354.1 129.2L355.4 130.1L356.7 131.9L358.0 132.7L359.3 135.3L360.6 137.0L361.9 136.9L363.1 137.8L364.4 140.3L365.7 138.2L367.0 140.1L368.3 143.9L369.6 142.7L370.9 142.6L372.2 142.1L373.5 144.6L374.8 147.8L376.1 146.8L377.4 145.4L378.6 144.5L379.9 145.7L381.2 150.8L382.5 150.0L383.8 150.4L385.1 148.0L386.4 148.1L387.7 151.2L389.0 152.1L390.3 152.9L391.6 150.4L392.9 148.8L394.1 152.0L395.4 153.3L396.7 155.2L398.0 152.2L399.3 152.6L400.6 152.7L401.9 155.5L403.2 155.2L404.5 155.4L405.8 153.4L407.1 152.6L408.4 153.9L409.6 156.1L410.9 156.8L412.2 153.7L413.5 153.2L414.8 155.0L416.1 155.4L417.4 158.4L418.7 156.6L420.0 153.9L421.3 154.6L422.6 156.5L423.9 158.6L425.1 158.7L426.4 156.6L427.7 155.2L429.0 157.3L430.3 159.8L431.6 159.2L432.9 155.8L434.2 155.5L435.5 155.1L436.8 158.5L438.1 159.7L439.4 159.2L440.7 155.8L441.9 157.7L443.2 158.5L444.5 159.3L445.8 160.9L447.1 158.8L448.4 158.1L449.7 158.4L451.0 159.4L452.3 161.1L453.6 159.1L454.9 158.7L456.2 158.4L457.4 159.9L458.7 161.5L460.0 161.7L461.3 159.3L462.6 158.8L463.9 157.9L465.2 159.9L466.5 160.1L467.8 160.4L469.1 157.8L470.4 158.5L471.7 160.5L472.9 160.3L474.2 160.5L475.5 159.2L476.8 159.4L478.1 161.2L479.4 160.7L480.7 162.6L482.0 160.2L483.3 160.7L484.6 160.3L485.9 162.5L487.2 161.4L488.4 161.8" fill="none" stroke="#46307e" stroke-width="1.4" stroke-linejoin="round"/>
<path d="M307.6 162.4L308.9 162.3L310.2 161.7L311.5 160.0L312.8 158.5L314.1 156.6L315.4 156.6L316.6 156.3L317.9 152.5L319.2 148.2L320.5 142.0L321.8 135.6L323.1 128.3L324.4 119.4L325.7 110.4L327.0 104.2L328.3 98.3L329.6 95.0L330.9 91.4L332.1 90.4L333.4 89.2L334.7 91.0L336.0 93.0L337.3 96.2L338.6 99.5L339.9 102.6L341.2 105.9L342.5 109.0L343.8 112.0L345.1 115.4L346.4 118.4L347.6 121.0L348.9 123.7L350.2 126.2L351.5 128.6L352.8 130.3L354.1 133.1L355.4 133.8L356.7 136.9L358.0 138.7L359.3 138.2L360.6 137.2L361.9 139.2L363.1 139.8L364.4 144.2L365.7 144.4L367.0 144.0L368.3 143.0L369.6 142.5L370.9 145.1L372.2 148.7L373.5 150.5L374.8 149.1L376.1 147.2L377.4 147.6L378.6 150.3L379.9 152.8L381.2 151.4L382.5 150.8L383.8 150.1L385.1 149.3L386.4 151.0L387.7 153.6L389.0 154.4L390.3 152.0L391.6 150.7L392.9 150.2L394.1 152.2L395.4 154.8L396.7 155.9L398.0 154.7L399.3 153.4L400.6 152.8L401.9 154.3L403.2 155.4L404.5 155.8L405.8 155.8L407.1 154.0L408.4 155.2L409.6 156.3L410.9 158.5L412.2 158.0L413.5 157.4L414.8 156.1L416.1 155.3L417.4 158.2L418.7 158.5L420.0 158.5L421.3 156.7L422.6 157.3L423.9 156.5L425.1 159.2L426.4 158.1L427.7 159.7L429.0 158.3L430.3 158.3L431.6 157.1L432.9 158.6L434.2 160.7L435.5 161.0L436.8 159.8L438.1 158.4L439.4 158.9L440.7 157.6L441.9 160.2L443.2 160.4L444.5 159.4L445.8 158.4L447.1 158.1L448.4 158.8L449.7 160.8L451.0 159.9L452.3 160.1L453.6 157.8L454.9 159.3L456.2 159.4L457.4 160.4L458.7 160.2L460.0 159.3L461.3 160.0L462.6 159.5L463.9 158.8L465.2 161.6L466.5 162.8L467.8 159.8L469.1 159.0L470.4 160.3L471.7 160.8L472.9 160.5L474.2 162.1L475.5 161.4L476.8 160.2L478.1 158.6L479.4 161.9L480.7 161.5L482.0 162.0L483.3 161.0L484.6 159.7L485.9 160.2L487.2 160.6L488.4 161.9" fill="none" stroke="#23857c" stroke-width="1.4" stroke-linejoin="round"/>
<path d="M307.6 162.3L308.9 162.4L310.2 161.4L311.5 159.2L312.8 157.4L314.1 155.3L315.4 155.2L316.6 155.0L317.9 150.6L319.2 146.0L320.5 139.6L321.8 133.5L323.1 125.7L324.4 115.2L325.7 105.3L327.0 99.8L328.3 94.1L329.6 90.7L330.9 87.0L332.1 85.9L333.4 84.7L334.7 86.5L336.0 88.0L337.3 91.7L338.6 95.2L339.9 98.8L341.2 102.3L342.5 105.7L343.8 108.9L345.1 112.1L346.4 115.0L347.6 117.8L348.9 120.4L350.2 123.0L351.5 125.4L352.8 127.2L354.1 129.3L355.4 131.6L356.7 133.2L358.0 133.7L359.3 135.4L360.6 136.6L361.9 137.7L363.1 137.1L364.4 138.6L365.7 140.9L367.0 142.1L368.3 142.4L369.6 140.7L370.9 141.3L372.2 143.4L373.5 145.9L374.8 148.5L376.1 146.2L377.4 145.0L378.6 146.0L379.9 148.1L381.2 148.6L382.5 150.2L383.8 147.2L385.1 148.8L386.4 149.2L387.7 151.1L389.0 151.7L390.3 150.4L391.6 148.9L392.9 150.0L394.1 152.1L395.4 153.0L396.7 153.8L398.0 153.1L399.3 152.0L400.6 152.8L401.9 153.8L403.2 155.3L404.5 154.1L405.8 153.4L407.1 152.6L408.4 153.9L409.6 156.6L410.9 156.4L412.2 155.9L413.5 154.3L414.8 154.8L416.1 157.3L417.4 157.3L418.7 157.5L420.0 155.6L421.3 154.5L422.6 155.6L423.9 157.3L425.1 158.6L426.4 157.7L427.7 156.0L429.0 157.3L430.3 158.7L431.6 160.1L432.9 159.7L434.2 157.1L435.5 157.2L436.8 157.5L438.1 157.8L439.4 160.0L440.7 158.4L441.9 158.3L443.2 157.4L444.5 159.2L445.8 160.2L447.1 159.4L448.4 160.3L449.7 157.4L451.0 157.9L452.3 160.0L453.6 161.8L454.9 160.1L456.2 159.3L457.4 158.0L458.7 159.1L460.0 159.3L461.3 161.3L462.6 161.0L463.9 158.8L465.2 158.7L466.5 159.0L467.8 160.6L469.1 160.9L470.4 158.8L471.7 160.1L472.9 160.2L474.2 161.8L475.5 162.1L476.8 162.2L478.1 159.4L479.4 159.8L480.7 161.8L482.0 162.6L483.3 161.7L484.6 160.3L485.9 158.4L487.2 157.9L488.4 161.2" fill="none" stroke="#d81e64" stroke-width="1.4" stroke-linejoin="round"/>
<path d="M307.6 162.3L308.9 162.2L310.2 159.1L311.5 154.6L312.8 148.4L314.1 145.4L315.4 148.2L316.6 147.3L317.9 144.0L319.2 140.6L320.5 137.5L321.8 132.7L323.1 124.1L324.4 114.7L325.7 102.4L327.0 90.1L328.3 78.4L329.6 72.2L330.9 67.5L332.1 65.4L333.4 65.5L334.7 67.8L336.0 71.6L337.3 77.1L338.6 83.7L339.9 92.8L341.2 100.7L342.5 106.6L343.8 110.4L345.1 114.2L346.4 117.2L347.6 119.6L348.9 122.1L350.2 124.1L351.5 126.7L352.8 128.5L354.1 131.5L355.4 131.6L356.7 132.9L358.0 134.5L359.3 136.8L360.6 138.2L361.9 137.1L363.1 138.6L364.4 140.2L365.7 140.2L367.0 143.1L368.3 143.1L369.6 141.7L370.9 142.3L372.2 144.0L373.5 145.9L374.8 148.5L376.1 147.1L377.4 145.9L378.6 146.5L379.9 146.6L381.2 150.8L382.5 150.6L383.8 149.7L385.1 147.3L386.4 149.3L387.7 150.8L389.0 152.5L390.3 152.7L391.6 150.8L392.9 150.0L394.1 150.7L395.4 152.0L396.7 152.8L398.0 155.5L399.3 152.9L400.6 151.2L401.9 152.6L403.2 153.5L404.5 156.3L405.8 156.4L407.1 153.4L408.4 155.6L409.6 154.9L410.9 154.6L412.2 157.4L413.5 156.3L414.8 155.8L416.1 154.6L417.4 156.0L418.7 156.2L420.0 159.0L421.3 159.4L422.6 155.4L423.9 154.4L425.1 157.7L426.4 160.2L427.7 159.8L429.0 157.3L430.3 156.9L431.6 156.6L432.9 160.1L434.2 160.0L435.5 158.7L436.8 158.2L438.1 157.9L439.4 156.7L440.7 158.4L441.9 160.7L443.2 160.4L444.5 157.3L445.8 158.1L447.1 158.6L448.4 158.5L449.7 160.6L451.0 160.4L452.3 160.2L453.6 158.2L454.9 159.3L456.2 161.2L457.4 160.3L458.7 161.2L460.0 160.2L461.3 159.5L462.6 160.1L463.9 162.5L465.2 162.3L466.5 161.0L467.8 159.3L469.1 160.0L470.4 159.8L471.7 162.8L472.9 161.2L474.2 160.8L475.5 159.1L476.8 158.3L478.1 161.2L479.4 161.8L480.7 160.9L482.0 161.5L483.3 159.3L484.6 159.9L485.9 161.9L487.2 161.8L488.4 161.6" fill="none" stroke="#1a1a1a" stroke-width="1.7" stroke-linejoin="round"/>
<line x1="307.60" y1="20.5" x2="307.60" y2="163.05" stroke="#111" stroke-width="1.5"/>
<line x1="306.85" y1="162.30" x2="520" y2="162.30" stroke="#111" stroke-width="1.5"/>
<line x1="304.60" y1="162.30" x2="307.60" y2="162.30" stroke="#222" stroke-width="1"/>
<text transform="translate(301.4,165.30)" text-anchor="end" font-size="8.6" fill="#1a1a1a" stroke="#1a1a1a" stroke-width="0.12">0</text>
<line x1="304.60" y1="140.65" x2="307.60" y2="140.65" stroke="#222" stroke-width="1"/>
<text transform="translate(301.4,143.65)" text-anchor="end" font-size="8.6" fill="#1a1a1a" stroke="#1a1a1a" stroke-width="0.12">20</text>
<line x1="304.60" y1="119.00" x2="307.60" y2="119.00" stroke="#222" stroke-width="1"/>
<text transform="translate(301.4,122.00)" text-anchor="end" font-size="8.6" fill="#1a1a1a" stroke="#1a1a1a" stroke-width="0.12">40</text>
<line x1="304.60" y1="97.35" x2="307.60" y2="97.35" stroke="#222" stroke-width="1"/>
<text transform="translate(301.4,100.35)" text-anchor="end" font-size="8.6" fill="#1a1a1a" stroke="#1a1a1a" stroke-width="0.12">60</text>
<line x1="304.60" y1="75.70" x2="307.60" y2="75.70" stroke="#222" stroke-width="1"/>
<text transform="translate(301.4,78.70)" text-anchor="end" font-size="8.6" fill="#1a1a1a" stroke="#1a1a1a" stroke-width="0.12">80</text>
<line x1="304.60" y1="54.05" x2="307.60" y2="54.05" stroke="#222" stroke-width="1"/>
<text transform="translate(301.4,57.05)" text-anchor="end" font-size="8.6" fill="#1a1a1a" stroke="#1a1a1a" stroke-width="0.12">100</text>
<line x1="304.60" y1="32.40" x2="307.60" y2="32.40" stroke="#222" stroke-width="1"/>
<text transform="translate(301.4,35.40)" text-anchor="end" font-size="8.6" fill="#1a1a1a" stroke="#1a1a1a" stroke-width="0.12">120</text>
<line x1="307.60" y1="162.30" x2="307.60" y2="165.30" stroke="#222" stroke-width="1"/>
<text transform="translate(307.60,176.3)" text-anchor="middle" font-size="8.6" fill="#1a1a1a" stroke="#1a1a1a" stroke-width="0.12">0</text>
<line x1="333.44" y1="162.30" x2="333.44" y2="165.30" stroke="#222" stroke-width="1"/>
<text transform="translate(333.44,176.3)" text-anchor="middle" font-size="8.6" fill="#1a1a1a" stroke="#1a1a1a" stroke-width="0.12">5</text>
<line x1="359.27" y1="162.30" x2="359.27" y2="165.30" stroke="#222" stroke-width="1"/>
<text transform="translate(359.27,176.3)" text-anchor="middle" font-size="8.6" fill="#1a1a1a" stroke="#1a1a1a" stroke-width="0.12">10</text>
<line x1="385.11" y1="162.30" x2="385.11" y2="165.30" stroke="#222" stroke-width="1"/>
<text transform="translate(385.11,176.3)" text-anchor="middle" font-size="8.6" fill="#1a1a1a" stroke="#1a1a1a" stroke-width="0.12">15</text>
<line x1="410.94" y1="162.30" x2="410.94" y2="165.30" stroke="#222" stroke-width="1"/>
<text transform="translate(410.94,176.3)" text-anchor="middle" font-size="8.6" fill="#1a1a1a" stroke="#1a1a1a" stroke-width="0.12">20</text>
<line x1="436.77" y1="162.30" x2="436.77" y2="165.30" stroke="#222" stroke-width="1"/>
<text transform="translate(436.77,176.3)" text-anchor="middle" font-size="8.6" fill="#1a1a1a" stroke="#1a1a1a" stroke-width="0.12">25</text>
<line x1="462.61" y1="162.30" x2="462.61" y2="165.30" stroke="#222" stroke-width="1"/>
<text transform="translate(462.61,176.3)" text-anchor="middle" font-size="8.6" fill="#1a1a1a" stroke="#1a1a1a" stroke-width="0.12">30</text>
<line x1="488.45" y1="162.30" x2="488.45" y2="165.30" stroke="#222" stroke-width="1"/>
<text transform="translate(488.45,176.3)" text-anchor="middle" font-size="8.6" fill="#1a1a1a" stroke="#1a1a1a" stroke-width="0.12">35</text>
<line x1="514.28" y1="162.30" x2="514.28" y2="165.30" stroke="#222" stroke-width="1"/>
<text transform="translate(514.28,176.3)" text-anchor="middle" font-size="8.6" fill="#1a1a1a" stroke="#1a1a1a" stroke-width="0.12">40</text>
<text x="413.4" y="190.0" text-anchor="middle" font-size="9.2" fill="#1a1a1a" stroke="#1a1a1a" stroke-width="0.3" textLength="41.5" lengthAdjust="spacingAndGlyphs">Time (minute)</text>
<text transform="translate(280.0,91.6) rotate(-90)" x="0" y="0" text-anchor="middle" font-size="9.2" fill="#1a1a1a" stroke="#1a1a1a" stroke-width="0.3" textLength="46.5" lengthAdjust="spacingAndGlyphs">Thrombin (nM)</text>
<text x="272.4" y="11.4" font-size="12" font-weight="bold" fill="#000" stroke="#000" stroke-width="0.45">B</text>
<line x1="437.4" y1="29.70" x2="449.3" y2="29.70" stroke="#333333" stroke-width="1.5"/>
<text x="453.2" y="32.40" font-size="8.1" fill="#1a1a1a" stroke="#1a1a1a" stroke-width="0.15" textLength="47.0" lengthAdjust="spacingAndGlyphs">no pre-dilution</text>
<line x1="437.4" y1="41.10" x2="449.3" y2="41.10" stroke="#c8306a" stroke-width="1.1"/>
<text x="453.2" y="43.80" font-size="8.1" fill="#1a1a1a" stroke="#1a1a1a" stroke-width="0.15" textLength="58.3" lengthAdjust="spacingAndGlyphs">24/30 pre-diluted</text>
<line x1="437.4" y1="52.50" x2="449.3" y2="52.50" stroke="#2f8580" stroke-width="1.2"/>
<text x="453.2" y="55.20" font-size="8.1" fill="#1a1a1a" stroke="#1a1a1a" stroke-width="0.15" textLength="58.3" lengthAdjust="spacingAndGlyphs">15/30 pre-diluted</text>
<line x1="437.4" y1="63.90" x2="449.3" y2="63.90" stroke="#4a3c78" stroke-width="1.5"/>
<text x="453.2" y="66.60" font-size="8.1" fill="#1a1a1a" stroke="#1a1a1a" stroke-width="0.15" textLength="53.8" lengthAdjust="spacingAndGlyphs">9/30 pre-diluted</text>
<path d="M35.0 364.1L35.7 364.5L36.4 363.2L37.2 364.4L37.9 362.8L38.6 364.5L39.3 363.6L40.0 364.0L40.7 363.4L41.5 364.5L42.2 363.8L42.9 362.7L43.6 364.5L44.3 364.4L45.0 363.1L45.8 364.5L46.5 362.7L47.2 364.4L47.9 364.3L48.6 363.2L49.4 363.8L50.1 363.2L50.8 363.4L51.5 364.5L52.2 362.9L52.9 363.5L53.7 363.4L54.4 363.7L55.1 364.5L55.8 364.5L56.5 363.3L57.2 364.5L58.0 364.5L58.7 364.1L59.4 363.6L60.1 363.0L60.8 363.5L61.6 363.9L62.3 363.5L63.0 363.8L63.7 364.0L64.4 363.0L65.1 364.2L65.9 363.7L66.6 364.5L67.3 364.5L68.0 364.1L68.7 363.4L69.3 363.8L69.4 364.0L69.9 363.2L70.2 363.6L70.9 360.0L71.6 360.3L72.3 357.8L73.0 355.5L73.8 355.5L74.1 354.1L74.5 352.8L75.2 350.3L75.9 351.5L76.6 349.1L77.3 349.5L78.1 346.7L78.8 346.5L79.5 346.4L80.2 344.7L80.7 343.7L80.9 343.5L81.6 341.7L82.4 337.7L83.1 336.7L83.8 335.7L84.1 334.3L84.5 332.5L85.2 332.6L86.0 330.3L86.7 329.5L87.4 329.3L88.1 328.4L88.2 328.5L88.8 327.8L89.5 327.0L90.3 327.8L90.8 325.4L91.0 326.9L91.7 326.1L92.4 326.6L93.1 325.6L93.7 328.1L93.8 327.5L94.6 328.4L95.3 329.3L96.0 328.8L96.7 329.4L97.4 331.1L97.6 330.6L98.2 332.5L98.9 331.6L99.6 333.5L100.2 334.1L100.3 332.4L101.0 334.5L101.7 334.4L102.5 334.3L103.2 335.6L103.9 336.2L104.6 337.2L105.3 337.2L106.0 337.0L106.8 338.3L107.5 339.6L108.2 339.7L108.9 338.6L109.6 341.1L110.4 340.2L110.7 340.6L111.1 340.4L111.8 340.7L112.5 341.4L113.2 342.3L113.9 343.7L114.7 342.2L115.4 343.6L116.1 343.7L116.8 343.0L117.5 344.4L118.2 346.2L119.0 340.1L119.7 342.9L120.4 348.6L120.8 347.9L121.1 349.4L121.8 346.8L122.6 345.7L123.3 350.4L124.0 342.5L124.7 347.7L125.4 347.1L126.1 347.9L126.9 349.5L127.6 349.5L128.3 348.8L129.0 346.1L129.7 347.3L130.4 347.6L130.9 354.4L131.2 352.1L131.9 346.8L132.6 351.1L133.3 350.9L134.0 349.9L134.8 349.1L135.5 349.4L136.2 347.7L136.9 353.2L137.6 349.9L138.3 353.4L139.1 350.9L139.8 352.6L140.5 354.1L141.0 352.8L141.2 352.3L141.9 353.2L142.6 353.8L143.4 350.7L144.1 356.7L144.8 351.8L145.5 354.3L146.2 353.2L147.0 356.9L147.7 355.4L148.4 351.9L149.1 350.0L149.2 353.9L149.8 356.0L150.5 353.8L151.3 358.0L152.0 352.1L152.7 356.0L153.4 355.6L154.1 358.9L154.8 358.3L155.0 358.3L155.6 356.4L156.3 360.8L157.0 354.7L157.7 356.5L158.4 362.1L159.2 360.9L159.9 355.9L160.6 358.0L161.3 357.3L162.0 359.3L162.7 357.7L163.5 360.2L164.2 357.5L164.9 359.8L165.5 356.4L165.6 361.6L166.3 361.8L167.0 356.5L167.8 358.7L168.5 358.2L169.2 362.3L169.9 357.2L170.6 359.9L171.4 360.4L172.1 361.0L172.8 359.9L173.5 360.0L174.2 358.6L174.9 361.2L175.7 357.6L176.4 360.5L177.1 359.7L177.8 361.4L178.5 355.0L179.2 357.6L180.0 363.0L180.7 356.3L181.4 359.0L182.1 360.5L182.8 363.2L183.6 355.7L184.3 355.7L185.0 359.3L185.7 356.3L186.4 360.8L187.1 361.3L187.9 359.7L188.6 359.7L189.3 360.7L190.0 360.9L190.7 357.9L191.4 364.5L192.2 360.6L192.9 358.8L193.6 359.3L194.3 358.8L195.0 359.8L195.8 358.3L196.5 362.5L197.2 359.3L197.9 362.5L198.6 364.5L199.3 357.2L200.1 361.0L200.8 358.0L201.5 361.9L202.2 361.5L202.9 356.4L203.6 360.5L204.4 361.7L205.1 361.7L205.8 360.3L206.5 361.9L207.2 359.0L208.0 357.8L208.7 359.1L209.4 361.9L210.1 360.2L210.8 357.3L211.5 362.2L212.3 357.2L213.0 359.3L213.7 360.7L214.4 362.2L215.1 361.2L215.8 357.0L216.6 361.0L217.3 361.2L218.0 361.5L218.7 361.5L219.4 362.0L220.2 362.6L220.9 360.1L221.6 361.2L222.3 360.9L223.0 358.3L223.7 360.7L224.5 364.5L225.2 360.6L225.9 360.1L226.6 360.6L227.3 362.7L228.0 359.5L228.8 359.7L229.5 360.9L230.2 362.8L230.9 362.7L231.6 358.3L232.4 360.7L233.1 364.5L233.8 364.3L234.5 361.2L235.2 361.4L235.9 360.7L236.7 360.2L237.4 364.1L238.1 358.3L238.8 357.8L239.5 361.9L240.2 359.1L241.0 364.4L241.7 360.0L242.4 361.8L243.1 361.4L243.8 361.9L244.6 360.1L245.3 361.9L246.0 359.2L246.7 359.1L247.0 364.5" fill="none" stroke="#9a7cc0" stroke-width="1.4" stroke-linejoin="round"/>
<path d="M35.0 364.0L35.7 363.6L36.4 364.1L37.2 364.1L37.9 363.6L38.6 363.6L39.3 363.7L40.0 364.5L40.7 364.5L41.5 364.3L42.2 363.4L42.9 364.0L43.6 364.3L44.3 363.7L45.0 363.7L45.8 364.5L46.5 363.5L47.2 364.4L47.9 363.8L48.6 363.6L49.4 364.5L50.1 363.1L50.8 364.5L51.5 363.3L52.2 363.5L52.9 364.1L53.7 363.1L54.4 364.5L55.1 364.5L55.8 364.0L56.5 364.5L57.2 364.1L58.0 363.8L58.7 362.8L59.4 364.2L60.1 363.9L60.8 363.5L61.6 363.4L62.3 364.1L63.0 363.3L63.7 364.5L64.4 364.4L65.1 364.5L65.9 364.2L66.6 363.5L67.3 364.0L68.0 362.7L68.6 363.9L68.7 363.1L69.4 360.7L70.2 360.0L70.9 358.9L71.6 357.4L72.3 352.9L73.0 351.6L73.2 350.0L73.8 348.8L74.5 345.6L75.2 341.2L75.9 340.3L76.6 337.4L77.3 334.0L77.4 335.0L78.1 329.4L78.8 324.8L79.5 320.4L80.0 317.4L80.2 316.2L80.9 314.0L81.6 311.2L82.0 310.4L82.4 308.9L83.1 308.9L83.8 307.2L84.1 308.2L84.5 308.6L85.2 310.2L85.9 310.5L86.0 310.2L86.7 312.5L87.4 313.9L88.1 316.7L88.8 320.3L89.1 319.9L89.5 320.2L90.3 322.2L91.0 324.4L91.7 326.0L92.4 327.8L93.1 330.9L93.8 331.9L94.0 331.4L94.6 331.7L95.3 334.2L96.0 335.1L96.7 335.4L97.4 336.4L98.2 337.9L98.9 339.4L99.3 338.8L99.6 339.2L100.3 342.0L101.0 343.1L101.7 342.6L102.5 343.9L103.2 345.8L103.5 345.8L103.9 345.7L104.6 345.5L105.3 346.4L106.0 346.8L106.8 347.2L107.5 348.1L108.2 348.7L108.4 348.9L108.9 348.6L109.6 349.9L110.4 350.9L111.1 349.6L111.8 350.2L112.5 349.3L113.2 350.9L113.3 351.8L113.9 352.0L114.7 350.4L115.4 351.4L116.1 353.3L116.8 353.6L117.5 352.6L118.2 350.3L119.0 354.0L119.7 357.7L120.4 351.8L120.8 356.3L121.1 354.0L121.8 357.3L122.6 355.0L123.3 354.2L124.0 358.5L124.7 357.0L125.4 354.3L126.1 356.4L126.3 353.8L126.9 356.8L127.6 358.1L128.3 358.2L129.0 354.7L129.7 353.8L130.4 355.6L131.2 354.4L131.9 354.5L132.6 359.3L133.3 358.5L134.0 356.9L134.8 356.4L135.5 356.5L136.2 357.2L136.9 358.4L137.6 357.0L138.3 357.1L139.1 358.1L139.4 356.2L139.8 358.1L140.5 357.9L141.2 357.2L141.9 359.1L142.6 354.7L143.4 360.0L144.1 357.1L144.8 361.2L145.5 358.6L146.2 360.4L147.0 359.6L147.7 354.9L148.4 359.5L149.1 358.2L149.8 360.0L150.5 355.4L151.3 353.1L152.0 361.4L152.4 362.5L152.7 361.0L153.4 356.7L154.1 359.5L154.8 363.9L155.6 362.2L156.3 359.0L157.0 359.9L157.7 356.6L158.4 359.3L159.2 360.5L159.9 361.0L160.6 361.4L161.3 362.2L162.0 360.5L162.7 358.2L163.5 361.6L164.2 360.9L164.9 359.8L165.5 357.5L165.6 359.9L166.3 359.9L167.0 358.8L167.8 359.9L168.5 359.9L169.2 361.0L169.9 357.5L170.6 359.8L171.4 361.7L172.1 359.1L172.8 360.0L173.5 363.6L174.2 359.8L174.9 361.7L175.7 360.9L176.4 358.7L177.1 358.4L177.8 358.9L178.5 359.8L179.2 357.5L180.0 362.6L180.7 357.1L181.4 358.5L182.1 361.7L182.8 363.7L183.6 360.1L184.3 360.5L185.0 362.2L185.7 361.9L186.4 359.2L187.1 359.2L187.9 360.7L188.6 359.4L189.3 360.4L190.0 363.4L190.7 362.6L191.4 359.9L192.2 361.0L192.9 359.9L193.6 358.9L194.3 362.6L195.0 363.3L195.8 359.6L196.5 360.5L197.2 360.0L197.9 359.8L198.6 353.2L199.3 360.3L200.1 360.0L200.8 361.0L201.5 361.7L202.2 362.0L202.9 358.0L203.6 358.6L204.4 362.9L205.1 364.5L205.8 358.5L206.5 358.3L207.2 361.1L208.0 360.3L208.7 360.3L209.4 362.0L210.1 362.8L210.8 359.7L211.5 358.5L212.3 360.2L213.0 357.9L213.7 360.1L214.4 362.2L215.1 359.4L215.8 361.1L216.6 362.2L217.3 359.0L218.0 359.2L218.7 362.3L219.4 361.6L220.2 360.7L220.9 364.1L221.6 361.2L222.3 362.9L223.0 361.0L223.7 362.5L224.5 359.5L225.2 364.5L225.9 356.4L226.6 364.5L227.3 357.1L228.0 360.6L228.8 362.1L229.5 354.8L230.2 361.2L230.9 360.3L231.6 363.4L232.4 361.9L233.1 361.8L233.8 359.5L234.5 359.7L235.2 357.9L235.9 361.0L236.7 361.1L237.4 364.5L238.1 358.7L238.8 362.7L239.5 363.3L240.2 357.0L241.0 362.3L241.7 363.7L242.4 362.4L243.1 362.1L243.8 362.3L244.6 359.5L245.3 360.9L246.0 357.8L246.7 359.9L247.0 359.2" fill="none" stroke="#46307e" stroke-width="1.4" stroke-linejoin="round"/>
<path d="M35.0 364.5L35.7 364.0L36.4 363.4L37.2 364.5L37.9 364.5L38.6 364.5L39.3 362.8L40.0 362.6L40.7 363.2L41.5 363.1L41.5 364.0L42.2 364.3L42.9 362.7L43.6 362.3L44.3 362.8L45.0 364.3L45.8 362.2L46.5 362.1L47.2 362.7L47.9 361.2L48.0 360.7L48.6 360.9L49.4 361.2L50.1 361.4L50.8 360.2L51.5 361.3L52.2 359.3L52.9 359.1L53.7 359.4L54.4 358.4L55.1 359.3L55.8 358.1L56.2 358.2L56.5 358.7L57.2 358.4L58.0 359.7L58.7 359.6L59.4 360.8L59.5 359.6L60.1 359.6L60.8 360.0L61.6 360.7L62.3 361.0L62.7 361.1L63.0 363.1L63.7 362.5L64.4 363.1L65.1 363.1L65.5 362.8L65.9 350.8L66.2 342.6L66.6 330.6L67.3 311.0L67.6 299.1L68.0 296.2L68.7 287.2L69.3 282.3L69.4 282.5L70.2 281.0L70.9 278.0L71.2 276.7L71.6 277.7L72.3 279.4L72.8 282.5L73.0 284.1L73.8 292.1L74.5 299.2L75.2 309.6L75.9 320.0L76.1 322.9L76.6 327.3L77.3 331.5L78.1 338.3L78.8 342.7L79.0 344.1L79.5 343.7L80.2 344.4L80.9 345.2L81.6 345.8L82.4 347.6L83.1 348.1L83.8 349.4L84.5 349.3L84.9 350.8L85.2 349.9L86.0 348.6L86.7 349.6L87.4 351.6L88.1 352.4L88.8 352.0L89.5 353.0L90.3 353.4L90.5 351.6L91.0 354.0L91.7 353.4L92.4 354.0L93.1 352.9L93.8 354.0L94.6 355.0L95.3 353.9L96.0 354.8L96.7 355.9L97.4 356.0L98.2 357.1L98.9 356.3L99.6 356.2L100.2 356.7L100.3 357.1L101.0 356.6L101.7 357.0L102.5 356.7L103.2 356.5L103.9 357.0L104.6 357.7L105.3 357.9L106.0 357.2L106.8 358.8L107.5 357.5L108.2 357.7L108.9 360.5L109.6 359.3L110.4 358.3L111.1 359.5L111.8 358.0L112.5 358.0L113.2 358.6L113.3 358.7L113.9 358.4L114.7 358.3L115.4 358.5L116.1 358.7L116.8 357.6L117.5 357.6L118.2 360.3L119.0 355.6L119.7 362.2L120.4 357.9L121.1 360.9L121.8 358.4L122.6 358.5L123.3 357.7L124.0 358.3L124.7 357.7L125.4 354.6L126.1 360.8L126.9 364.5L127.6 356.3L128.3 357.5L129.0 360.7L129.7 360.7L130.4 361.8L131.2 360.7L131.9 362.2L132.6 358.4L132.9 359.3L133.3 359.3L134.0 361.1L134.8 357.0L135.5 355.4L136.2 359.9L136.9 361.2L137.6 360.5L138.3 362.4L139.1 360.5L139.8 361.0L140.5 359.0L141.2 359.6L141.9 358.3L142.6 361.5L143.4 364.5L144.1 356.9L144.8 356.7L145.5 360.6L146.2 360.1L147.0 354.4L147.7 357.0L148.4 361.0L149.1 363.1L149.8 359.8L150.5 359.7L151.3 358.7L152.0 359.0L152.7 355.0L153.4 360.8L154.1 362.9L154.8 360.8L155.6 360.9L156.3 361.2L157.0 360.2L157.7 359.1L158.4 361.1L159.2 359.0L159.9 360.5L160.6 364.5L161.3 360.8L162.0 360.1L162.7 358.7L163.5 361.6L164.2 357.1L164.9 363.7L165.6 362.2L166.3 361.4L167.0 356.8L167.8 358.8L168.5 359.8L169.2 357.0L169.9 363.0L170.6 361.1L171.4 359.5L172.1 360.7L172.8 364.1L173.5 360.4L174.2 358.7L174.9 357.3L175.7 358.3L176.4 362.6L177.1 359.9L177.8 360.6L178.5 358.3L179.2 361.6L180.0 358.6L180.7 360.1L181.4 359.6L182.1 364.5L182.8 361.1L183.6 358.5L184.3 359.9L185.0 357.6L185.7 361.2L186.4 359.0L187.1 356.6L187.9 356.7L188.6 359.7L189.3 358.0L190.0 360.5L190.7 357.9L191.4 361.4L192.2 361.8L192.9 359.5L193.6 362.1L194.3 358.5L195.0 360.9L195.8 362.8L196.5 360.1L197.2 359.3L197.9 359.0L198.6 362.2L199.3 363.3L200.1 361.0L200.8 361.2L201.5 362.4L202.2 364.2L202.9 362.8L203.6 358.5L204.4 360.4L205.1 362.4L205.8 364.5L206.5 363.7L207.2 360.2L208.0 358.5L208.7 356.4L209.4 363.8L210.1 361.6L210.8 362.4L211.5 362.8L212.3 363.1L213.0 358.0L213.7 361.8L214.4 360.9L215.1 354.9L215.8 357.3L216.6 361.6L217.3 363.9L218.0 359.9L218.7 360.0L219.4 361.9L220.2 356.6L220.9 360.9L221.6 361.5L222.3 359.5L223.0 358.2L223.7 359.6L224.5 360.1L225.2 362.0L225.9 360.1L226.6 364.5L227.3 359.4L228.0 361.4L228.8 362.1L229.5 359.8L230.2 360.5L230.9 363.7L231.6 361.7L232.4 362.9L233.1 359.5L233.8 361.1L234.5 362.3L235.2 360.6L235.9 361.7L236.7 362.0L237.4 361.3L238.1 361.5L238.8 357.3L239.5 360.5L240.2 354.7L241.0 358.1L241.7 361.4L242.4 361.1L243.1 359.3L243.8 361.5L244.6 363.7L245.3 361.8L246.0 357.5L246.7 360.8L247.0 363.0" fill="none" stroke="#23857c" stroke-width="1.4" stroke-linejoin="round"/>
<path d="M35.0 364.5L35.7 363.3L36.4 364.3L37.2 363.6L37.9 363.5L38.6 364.5L39.3 363.3L40.0 364.5L40.7 364.5L40.9 362.7L41.5 364.0L42.2 362.8L42.9 360.8L43.2 358.4L43.6 357.9L44.3 357.5L44.8 354.8L45.0 356.7L45.8 356.7L46.4 353.7L46.5 354.1L47.2 354.7L47.9 356.6L48.6 355.9L48.7 356.2L49.4 359.5L50.1 360.6L50.5 362.2L50.8 361.4L51.5 363.0L52.0 362.7L52.2 360.0L52.6 358.4L52.9 339.4L53.3 321.3L53.7 303.1L54.4 268.9L54.6 260.4L55.1 248.9L55.8 232.8L55.9 231.2L56.5 227.6L57.1 225.7L57.2 226.6L58.0 234.0L58.2 235.9L58.7 242.4L59.4 252.0L60.1 260.5L60.8 280.0L61.6 295.6L61.7 300.4L62.3 306.2L63.0 312.4L63.7 319.7L64.0 323.0L64.4 326.4L65.1 329.0L65.9 334.2L66.0 333.9L66.6 335.1L67.3 336.6L68.0 338.2L68.7 339.0L69.4 342.6L70.2 342.6L70.6 344.1L70.9 344.0L71.6 343.4L72.3 344.1L73.0 345.6L73.8 344.5L74.1 346.6L74.5 346.5L75.2 346.3L75.9 347.7L76.6 347.9L77.3 347.3L78.1 349.4L78.8 349.0L79.5 350.3L80.2 347.5L80.7 349.7L80.9 349.0L81.6 350.8L82.4 348.5L83.1 351.4L83.8 351.0L84.5 349.2L85.2 350.7L86.0 351.8L86.7 350.9L87.4 352.0L88.1 352.4L88.8 353.2L89.5 353.8L90.3 354.0L90.8 354.2L91.0 354.1L91.7 353.6L92.4 353.8L93.1 354.2L93.8 354.2L94.6 354.6L95.3 353.9L96.0 354.3L96.7 353.6L97.4 355.1L98.2 353.3L98.9 355.0L99.3 355.1L99.6 354.7L100.3 355.9L101.0 355.4L101.7 355.4L102.5 355.9L103.2 356.0L103.9 357.5L104.6 355.3L105.3 357.0L106.0 358.9L106.8 355.8L107.5 356.9L108.2 357.3L108.9 357.8L109.6 358.2L110.0 357.6L110.4 356.2L111.1 357.6L111.8 357.5L112.5 358.2L113.2 359.3L113.9 358.6L114.7 358.6L115.4 358.2L116.1 358.4L116.8 358.8L117.5 362.0L118.2 362.1L119.0 361.1L119.7 363.8L119.8 361.8L120.4 356.9L121.1 360.1L121.8 362.3L122.6 362.7L123.3 359.1L124.0 359.1L124.7 359.3L125.4 358.8L126.1 360.1L126.9 359.7L127.6 362.4L128.3 360.8L129.0 360.0L129.7 363.5L130.4 361.5L131.2 360.9L131.9 355.9L132.6 359.3L132.9 359.3L133.3 357.9L134.0 360.3L134.8 356.0L135.5 361.9L136.2 362.8L136.9 359.8L137.6 361.3L138.3 362.3L139.1 360.2L139.8 364.5L140.5 359.5L141.2 361.7L141.9 359.9L142.6 362.2L143.4 361.3L144.1 358.2L144.8 362.5L145.5 357.8L146.2 361.1L147.0 355.2L147.7 363.5L148.4 357.7L149.1 361.0L149.8 357.0L150.5 361.9L151.3 363.3L152.0 360.6L152.7 360.0L153.4 361.2L154.1 360.4L154.8 361.0L155.6 361.7L156.3 363.8L157.0 358.8L157.7 359.0L158.4 362.2L159.2 357.9L159.9 360.6L160.6 359.6L161.3 361.5L162.0 358.4L162.7 356.4L163.5 359.1L164.2 359.6L164.9 363.2L165.6 359.1L166.3 362.0L167.0 361.9L167.8 360.3L168.5 358.7L169.2 360.9L169.9 356.8L170.6 358.5L171.4 362.1L172.1 360.2L172.8 358.0L173.5 360.2L174.2 360.4L174.9 356.1L175.7 353.5L176.4 357.0L177.1 364.0L177.8 360.3L178.5 361.9L179.2 363.4L180.0 362.4L180.7 363.4L181.4 361.7L182.1 360.5L182.8 360.8L183.6 360.4L184.3 361.9L185.0 362.4L185.7 356.4L186.4 360.0L187.1 360.6L187.9 358.8L188.6 358.2L189.3 361.9L190.0 362.6L190.7 361.0L191.4 362.0L192.2 360.7L192.9 358.0L193.6 360.1L194.3 360.7L195.0 360.6L195.8 362.7L196.5 361.8L197.2 355.5L197.9 360.3L198.6 361.3L199.3 356.6L200.1 358.0L200.8 360.5L201.5 362.7L202.2 362.2L202.9 357.5L203.6 358.3L204.4 359.0L205.1 358.1L205.8 359.2L206.5 359.8L207.2 360.5L207.9 360.4L208.0 362.6L208.7 360.5L209.4 363.5L210.1 363.7L210.8 358.1L211.5 360.1L212.3 355.0L212.8 356.0L213.0 353.5L213.7 352.7L214.4 354.0L215.1 357.0L215.8 357.9L216.0 352.9L216.6 354.6L217.3 361.4L218.0 357.8L218.7 357.1L219.3 356.4L219.4 351.6L220.2 354.8L220.9 357.7L221.6 350.6L221.9 353.6L222.3 356.1L223.0 354.5L223.7 354.2L224.5 355.4L225.2 357.6L225.8 360.0L225.9 360.4L226.6 359.6L227.3 356.9L228.0 363.1L228.8 363.8L229.1 358.2L229.5 361.1L230.2 360.9L230.9 360.5L231.6 362.7L232.4 357.9L233.1 358.5L233.8 360.7L234.5 364.5L235.2 360.0L235.9 356.0L236.7 356.3L237.4 361.7L238.1 362.7L238.8 357.1L239.5 357.8L240.2 359.1L241.0 362.4L241.7 360.2L242.4 364.5L243.1 362.0L243.8 361.1L244.6 361.2L245.3 362.4L246.0 363.2L246.7 359.8L247.0 363.1" fill="none" stroke="#1a1a1a" stroke-width="1.6" stroke-linejoin="round"/>
<path d="M35.0 363.8L35.7 363.7L36.4 363.1L37.2 363.8L37.9 364.3L38.3 363.7L38.6 362.9L39.3 361.6L39.9 360.9L40.0 359.8L40.7 357.7L41.5 356.8L41.5 357.8L42.2 357.9L42.9 358.1L43.2 358.4L43.6 359.8L44.3 360.6L44.8 359.6L45.0 358.3L45.8 359.1L46.5 358.3L47.2 358.7L47.9 358.5L48.0 359.3L48.6 358.4L49.4 360.9L49.7 360.5L50.1 360.9L50.8 362.4L51.3 361.5L51.5 362.4L52.2 360.9L52.9 361.2L53.7 362.0L54.4 362.1L54.6 361.9L55.1 361.4L55.8 362.1L56.5 360.6L57.2 363.2L57.8 362.2L58.0 360.8L58.7 364.2L59.4 363.0L60.1 362.5L60.4 364.3L60.8 345.6L60.9 343.8L61.6 318.2L61.9 304.5L62.3 298.4L63.0 282.6L63.4 278.0L63.7 272.6L64.4 267.1L64.7 263.9L65.1 264.2L65.7 263.7L65.9 263.9L66.6 265.6L67.0 269.8L67.3 271.6L68.0 278.9L68.6 285.8L68.7 287.8L69.4 293.1L70.2 300.1L70.6 303.4L70.9 306.5L71.6 315.0L72.3 321.2L72.5 323.2L73.0 325.0L73.8 327.1L74.5 329.8L75.2 330.2L75.8 332.8L75.9 333.9L76.6 334.9L77.3 334.0L78.1 337.2L78.8 336.8L79.5 339.6L80.2 339.5L80.7 338.9L80.9 339.5L81.6 341.7L82.4 342.1L83.1 342.6L83.8 344.7L84.5 346.1L85.2 344.9L85.6 346.5L86.0 346.2L86.7 344.6L87.4 348.0L88.1 347.5L88.8 347.7L89.5 347.4L90.1 348.8L90.3 347.3L91.0 349.6L91.7 348.8L92.4 349.0L93.1 350.1L93.7 350.5L93.8 349.9L94.6 351.2L95.3 350.2L96.0 351.2L96.7 350.6L97.4 352.0L98.2 352.3L98.9 352.1L99.6 351.3L100.2 350.9L100.3 352.4L101.0 351.2L101.7 352.5L102.5 352.2L103.2 352.8L103.9 352.8L104.6 352.9L105.3 353.7L106.0 352.8L106.8 353.5L107.5 352.1L108.2 353.2L108.9 352.8L109.6 353.2L110.4 353.8L111.1 352.9L111.8 354.2L112.5 353.7L113.2 353.2L113.9 353.5L114.7 353.4L115.4 353.7L116.1 354.2L116.8 356.1L117.5 353.3L118.2 350.0L119.0 352.7L119.7 355.3L119.8 358.6L120.4 352.4L121.1 354.2L121.8 356.9L122.6 356.0L123.3 356.3L124.0 353.4L124.7 356.5L125.4 354.5L126.1 355.1L126.9 355.9L127.6 357.0L128.3 356.0L129.0 355.3L129.7 355.6L130.4 356.0L131.2 356.5L131.9 358.1L132.6 358.1L132.9 358.9L133.3 356.4L134.0 354.4L134.8 360.3L135.5 356.7L136.2 358.6L136.9 356.7L137.6 357.8L138.3 356.0L139.1 358.7L139.8 358.5L140.5 359.3L141.2 354.9L141.9 356.0L142.6 359.3L143.4 360.8L144.1 360.7L144.8 362.4L145.5 355.4L146.2 357.6L147.0 354.9L147.7 353.5L148.4 358.1L149.1 361.0L149.2 358.8L149.8 360.6L150.5 359.8L151.3 354.6L152.0 355.9L152.7 354.2L153.4 361.0L154.1 358.8L154.8 360.3L155.6 359.0L156.3 358.0L157.0 359.1L157.7 359.4L158.4 356.1L159.2 356.5L159.9 357.8L160.6 357.9L161.3 361.0L162.0 358.7L162.7 362.3L163.5 360.2L164.2 358.7L164.9 357.6L165.5 358.1L165.6 362.3L166.3 359.2L167.0 357.6L167.8 357.3L168.5 359.4L169.2 361.1L169.9 355.8L170.6 356.7L171.4 359.6L172.1 361.6L172.8 360.2L173.5 359.1L174.2 354.7L174.9 358.2L175.7 359.6L176.4 361.3L177.1 357.8L177.8 358.3L178.5 359.5L179.2 359.9L180.0 361.7L180.7 356.9L181.4 359.9L182.1 356.8L182.8 364.5L183.6 364.5L184.3 357.2L185.0 361.9L185.7 355.2L186.4 358.5L187.1 359.6L187.9 355.0L188.6 360.4L189.3 360.4L190.0 360.7L190.7 358.6L191.4 358.1L192.2 361.9L192.9 356.9L193.6 357.7L194.3 361.6L195.0 357.4L195.8 362.0L196.5 362.8L197.2 358.4L197.9 357.8L198.6 359.2L199.3 360.9L200.1 361.2L200.8 361.1L201.5 354.7L202.2 360.6L202.9 362.0L203.6 357.0L204.4 363.2L205.1 357.6L205.8 361.9L206.5 356.8L207.2 356.6L208.0 358.2L208.7 359.9L209.4 360.8L210.1 359.4L210.8 363.9L211.5 358.1L212.3 360.2L213.0 358.6L213.7 363.2L214.4 357.1L215.1 359.6L215.8 361.9L216.6 359.5L217.3 357.6L218.0 361.3L218.7 357.9L219.4 355.1L220.2 362.3L220.9 361.3L221.6 358.6L222.3 358.7L223.0 364.5L223.7 360.8L224.5 360.7L225.2 361.4L225.9 355.9L226.6 360.8L227.3 358.6L228.0 363.0L228.8 359.2L229.5 359.5L230.2 362.3L230.9 357.4L231.6 360.5L232.4 357.9L233.1 359.7L233.8 358.1L234.5 360.8L235.2 358.1L235.9 359.7L236.7 364.3L237.4 364.1L238.1 357.8L238.8 358.3L239.5 359.6L240.2 356.2L241.0 357.5L241.7 357.4L242.4 362.4L243.1 360.0L243.8 361.9L244.6 358.3L245.3 356.8L246.0 361.7L246.7 358.6L247.0 355.0" fill="none" stroke="#d81e64" stroke-width="1.4" stroke-linejoin="round"/>
<line x1="35.00" y1="222" x2="35.00" y2="364.75" stroke="#111" stroke-width="1.5"/>
<line x1="34.25" y1="364.00" x2="247.8" y2="364.00" stroke="#111" stroke-width="1.5"/>
<line x1="32.00" y1="364.00" x2="35.00" y2="364.00" stroke="#222" stroke-width="1"/>
<text transform="translate(29.2,367.00)" text-anchor="end" font-size="8.6" fill="#1a1a1a" stroke="#1a1a1a" stroke-width="0.12">0</text>
<line x1="32.00" y1="342.30" x2="35.00" y2="342.30" stroke="#222" stroke-width="1"/>
<text transform="translate(29.2,345.30)" text-anchor="end" font-size="8.6" fill="#1a1a1a" stroke="#1a1a1a" stroke-width="0.12">20</text>
<line x1="32.00" y1="320.60" x2="35.00" y2="320.60" stroke="#222" stroke-width="1"/>
<text transform="translate(29.2,323.60)" text-anchor="end" font-size="8.6" fill="#1a1a1a" stroke="#1a1a1a" stroke-width="0.12">40</text>
<line x1="32.00" y1="298.90" x2="35.00" y2="298.90" stroke="#222" stroke-width="1"/>
<text transform="translate(29.2,301.90)" text-anchor="end" font-size="8.6" fill="#1a1a1a" stroke="#1a1a1a" stroke-width="0.12">60</text>
<line x1="32.00" y1="277.20" x2="35.00" y2="277.20" stroke="#222" stroke-width="1"/>
<text transform="translate(29.2,280.20)" text-anchor="end" font-size="8.6" fill="#1a1a1a" stroke="#1a1a1a" stroke-width="0.12">80</text>
<line x1="32.00" y1="255.50" x2="35.00" y2="255.50" stroke="#222" stroke-width="1"/>
<text transform="translate(29.2,258.50)" text-anchor="end" font-size="8.6" fill="#1a1a1a" stroke="#1a1a1a" stroke-width="0.12">100</text>
<line x1="32.00" y1="233.80" x2="35.00" y2="233.80" stroke="#222" stroke-width="1"/>
<text transform="translate(29.2,236.80)" text-anchor="end" font-size="8.6" fill="#1a1a1a" stroke="#1a1a1a" stroke-width="0.12">120</text>
<line x1="35.00" y1="364.00" x2="35.00" y2="367.00" stroke="#222" stroke-width="1"/>
<text transform="translate(35.00,377.6)" text-anchor="middle" font-size="8.6" fill="#1a1a1a" stroke="#1a1a1a" stroke-width="0.12">0</text>
<line x1="67.62" y1="364.00" x2="67.62" y2="367.00" stroke="#222" stroke-width="1"/>
<text transform="translate(67.62,377.6)" text-anchor="middle" font-size="8.6" fill="#1a1a1a" stroke="#1a1a1a" stroke-width="0.12">10</text>
<line x1="100.24" y1="364.00" x2="100.24" y2="367.00" stroke="#222" stroke-width="1"/>
<text transform="translate(100.24,377.6)" text-anchor="middle" font-size="8.6" fill="#1a1a1a" stroke="#1a1a1a" stroke-width="0.12">20</text>
<line x1="132.86" y1="364.00" x2="132.86" y2="367.00" stroke="#222" stroke-width="1"/>
<text transform="translate(132.86,377.6)" text-anchor="middle" font-size="8.6" fill="#1a1a1a" stroke="#1a1a1a" stroke-width="0.12">30</text>
<line x1="165.48" y1="364.00" x2="165.48" y2="367.00" stroke="#222" stroke-width="1"/>
<text transform="translate(165.48,377.6)" text-anchor="middle" font-size="8.6" fill="#1a1a1a" stroke="#1a1a1a" stroke-width="0.12">40</text>
<line x1="198.10" y1="364.00" x2="198.10" y2="367.00" stroke="#222" stroke-width="1"/>
<text transform="translate(198.10,377.6)" text-anchor="middle" font-size="8.6" fill="#1a1a1a" stroke="#1a1a1a" stroke-width="0.12">50</text>
<line x1="230.72" y1="364.00" x2="230.72" y2="367.00" stroke="#222" stroke-width="1"/>
<text transform="translate(230.72,377.6)" text-anchor="middle" font-size="8.6" fill="#1a1a1a" stroke="#1a1a1a" stroke-width="0.12">60</text>
<text x="141.1" y="391.0" text-anchor="middle" font-size="9.2" fill="#1a1a1a" stroke="#1a1a1a" stroke-width="0.3" textLength="41.5" lengthAdjust="spacingAndGlyphs">Time (minute)</text>
<text transform="translate(7.9,293.8) rotate(-90)" x="0" y="0" text-anchor="middle" font-size="9.2" fill="#1a1a1a" stroke="#1a1a1a" stroke-width="0.3" textLength="45.7" lengthAdjust="spacingAndGlyphs">Thrombin (nM)</text>
<text x="0.3" y="213.0" font-size="12" font-weight="bold" fill="#000" stroke="#000" stroke-width="0.45">C</text>
<line x1="155.2" y1="231.50" x2="168" y2="231.50" stroke="#222222" stroke-width="1.1"/>
<text x="171.1" y="234.20" font-size="8.1" fill="#1a1a1a" stroke="#1a1a1a" stroke-width="0.15" textLength="55.2" lengthAdjust="spacingAndGlyphs">30x diluted silica</text>
<line x1="155.2" y1="242.80" x2="168" y2="242.80" stroke="#dc5a8e" stroke-width="1.5"/>
<text x="171.1" y="245.50" font-size="8.1" fill="#1a1a1a" stroke="#1a1a1a" stroke-width="0.15" textLength="59.5" lengthAdjust="spacingAndGlyphs">120x diluted silica</text>
<line x1="155.2" y1="254.10" x2="168" y2="254.10" stroke="#4aa09c" stroke-width="1.2"/>
<text x="171.1" y="256.80" font-size="8.1" fill="#1a1a1a" stroke="#1a1a1a" stroke-width="0.15" textLength="59.8" lengthAdjust="spacingAndGlyphs">480x diluted silica</text>
<line x1="155.2" y1="265.40" x2="168" y2="265.40" stroke="#3c3458" stroke-width="1.1"/>
<text x="171.1" y="268.10" font-size="8.1" fill="#1a1a1a" stroke="#1a1a1a" stroke-width="0.15" textLength="64.6" lengthAdjust="spacingAndGlyphs">1920x diluted silica</text>
<line x1="155.2" y1="276.70" x2="168" y2="276.70" stroke="#a796c8" stroke-width="1.5"/>
<text x="171.1" y="279.40" font-size="8.1" fill="#1a1a1a" stroke="#1a1a1a" stroke-width="0.15" textLength="20.3" lengthAdjust="spacingAndGlyphs">Buffer</text>
<path d="M307.7 362.4L308.4 364.4L309.1 364.1L309.8 363.5L310.6 364.3L311.3 364.0L312.0 362.5L312.7 363.0L313.4 363.4L314.1 364.0L314.8 363.9L315.6 362.6L316.3 364.0L317.0 363.4L317.7 363.4L318.4 364.5L319.1 362.8L319.9 364.5L320.6 363.9L321.3 364.5L322.0 362.8L322.7 363.5L323.4 364.4L324.1 364.5L324.9 363.6L325.6 363.8L326.3 364.5L327.0 364.5L327.7 362.8L328.4 362.9L329.1 364.5L329.9 364.5L330.6 364.4L331.3 363.6L332.0 364.5L332.7 364.3L333.4 363.3L334.2 364.4L334.9 364.3L335.6 363.1L336.3 364.5L337.0 364.4L337.7 363.3L338.4 364.5L339.2 364.5L339.9 362.8L340.6 363.9L341.3 364.5L342.0 364.5L342.7 364.5L343.4 364.5L344.2 364.4L344.9 364.5L345.6 364.5L346.3 361.8L347.0 364.5L347.7 363.4L348.5 364.5L349.2 364.5L349.6 363.7L349.9 362.0L350.6 357.1L351.3 355.4L352.0 350.6L352.7 346.5L352.9 345.8L353.5 344.6L354.2 344.2L354.9 342.8L355.6 342.6L355.8 342.3L356.3 342.3L357.0 340.2L357.8 338.7L358.5 334.4L358.7 336.1L359.2 334.7L359.9 330.0L360.6 328.3L361.0 324.9L361.3 324.1L362.0 323.2L362.8 319.5L363.5 318.6L363.6 318.3L364.2 318.3L364.9 316.6L365.6 315.4L366.3 316.2L367.0 316.4L367.2 314.9L367.8 316.1L368.5 314.1L369.2 314.3L369.9 313.8L370.4 312.1L370.6 312.8L371.3 314.9L372.1 315.8L372.8 315.5L373.5 314.9L374.2 315.9L374.3 317.8L374.9 317.5L375.6 318.3L376.3 319.2L377.1 320.4L377.8 320.7L378.5 319.0L379.2 320.5L379.8 321.3L379.9 322.0L380.6 321.8L381.3 323.3L382.1 323.9L382.8 324.1L383.5 325.5L384.2 325.2L384.9 325.5L385.6 327.0L386.3 326.8L387.1 326.7L387.8 328.8L388.5 326.5L389.2 329.1L389.9 330.2L390.6 328.6L391.4 331.7L392.1 334.3L392.8 331.8L393.5 329.2L394.2 334.3L394.9 334.7L395.4 332.4L395.6 333.7L396.4 334.0L397.1 334.2L397.8 332.2L398.5 330.7L399.2 333.2L399.9 333.1L400.6 335.4L401.4 335.2L402.1 337.4L402.8 336.6L403.5 337.1L404.2 339.6L404.9 339.3L405.2 337.8L405.7 336.8L406.4 341.9L407.1 337.4L407.8 338.9L408.5 337.4L409.2 341.7L409.9 342.3L410.7 339.6L411.4 339.4L412.1 336.0L412.8 341.8L413.5 339.7L414.2 341.1L414.9 340.4L415.7 342.6L416.4 343.6L417.1 338.6L417.8 342.9L418.5 345.3L419.2 344.3L420.0 344.2L420.7 343.6L421.4 344.6L421.4 343.0L422.1 344.4L422.8 345.9L423.5 344.7L424.2 343.7L425.0 346.5L425.7 345.3L426.4 346.7L427.1 345.3L427.8 345.3L428.5 346.8L429.2 342.9L430.0 343.8L430.7 346.1L431.4 348.1L432.1 346.3L432.8 347.6L433.5 346.1L434.3 343.0L435.0 345.7L435.7 346.7L436.4 347.7L437.1 347.1L437.8 347.1L438.5 350.5L439.3 349.3L440.0 347.1L440.3 347.4L440.7 345.2L441.4 350.1L442.1 350.3L442.8 347.3L443.5 349.0L444.3 349.3L445.0 350.5L445.7 353.0L446.4 353.5L447.1 351.6L447.8 350.4L448.6 348.8L449.3 351.7L450.0 350.1L450.7 351.0L451.4 353.2L452.1 352.9L452.8 352.3L453.6 349.3L453.9 353.2L454.3 350.4L455.0 347.3L455.7 348.2L456.4 353.0L457.1 349.5L457.9 351.9L458.6 355.5L459.3 354.3L460.0 353.9L460.7 352.5L461.4 353.2L462.1 351.5L462.9 356.0L463.6 354.7L464.3 351.3L465.0 352.8L465.7 350.8L466.4 354.1L467.1 354.2L467.9 356.0L468.6 356.1L469.3 358.0L470.0 351.9L470.2 355.8L470.7 352.0L471.4 360.0L472.1 353.6L472.9 354.1L473.6 353.2L474.3 356.5L475.0 355.5L475.7 354.3L476.4 355.2L477.2 352.5L477.9 357.5L478.6 355.4L479.3 354.4L480.0 353.7L480.7 351.4L481.4 353.5L482.2 354.9L482.9 354.2L483.6 358.0L484.3 356.4L485.0 357.3L485.7 355.9L486.4 352.9L487.2 358.0L487.9 357.1L488.6 357.1L489.3 358.0L490.0 355.8L490.7 355.3L491.5 355.3L492.2 356.1L492.9 362.2L493.6 360.7L494.3 358.5L495.0 359.0L495.7 359.0L496.5 356.7L497.2 359.4L497.9 358.2L498.6 358.3L499.3 358.3L500.0 356.4L500.8 359.4L501.5 358.2L502.2 356.6L502.9 357.4L503.6 358.0L504.3 357.5L505.0 359.8L505.8 357.9L506.5 359.0L507.2 358.4L507.9 360.6L508.6 357.7L509.3 355.5L510.0 356.4L510.8 360.7L511.5 362.5L512.2 357.9L512.9 358.1L513.6 355.1L514.3 357.8L515.0 354.0L515.8 357.6L516.5 358.1L517.2 363.0L517.9 359.9L518.6 358.0L519.0 362.1" fill="none" stroke="#9a7cc0" stroke-width="1.4" stroke-linejoin="round"/>
<path d="M307.7 363.9L308.4 363.3L309.1 364.5L309.8 364.1L310.6 363.0L310.9 363.6L311.3 363.5L312.0 362.8L312.7 362.5L313.4 361.9L314.1 360.2L314.2 360.1L314.8 360.6L315.6 359.3L316.3 361.1L317.0 359.8L317.7 359.4L318.4 358.4L319.1 359.5L319.9 359.9L320.6 359.1L320.7 359.6L321.3 359.3L322.0 359.0L322.7 359.8L323.4 360.1L324.1 359.8L324.9 360.0L325.6 360.9L326.3 361.2L327.0 359.6L327.2 360.0L327.7 360.4L328.4 360.5L329.1 359.9L329.9 361.0L330.6 361.8L331.3 360.9L332.0 361.3L332.7 360.9L333.4 361.0L333.7 362.5L334.2 363.0L334.9 363.7L335.6 361.7L336.3 364.5L337.0 361.6L337.7 364.5L338.4 363.1L339.2 362.9L339.9 361.9L340.5 362.9L340.6 364.3L341.3 359.8L342.0 359.2L342.7 354.9L343.4 352.6L344.2 349.4L344.9 347.3L345.6 342.3L346.3 340.5L347.0 338.7L347.3 337.5L347.7 334.1L348.5 330.4L349.2 328.3L349.9 324.8L350.6 321.6L351.2 317.8L351.3 317.6L352.0 316.3L352.7 315.9L353.5 315.3L354.2 315.9L354.9 312.3L355.6 313.5L355.8 311.8L356.3 314.2L357.0 313.5L357.8 313.9L358.5 314.0L359.2 314.6L359.9 315.7L360.6 315.6L361.3 314.3L362.0 316.7L362.3 316.6L362.8 317.0L363.5 316.1L364.2 317.0L364.9 318.5L365.6 317.9L366.3 317.8L367.0 319.0L367.8 317.9L368.5 319.8L369.2 319.1L369.9 320.6L370.6 320.2L371.3 322.0L372.1 322.6L372.8 321.4L373.5 322.7L374.2 323.9L374.6 322.4L374.9 323.2L375.6 323.4L376.3 325.5L377.1 325.1L377.8 325.3L378.5 324.2L379.2 324.7L379.8 326.3L379.9 327.6L380.6 326.5L381.3 326.0L382.1 328.3L382.8 328.1L383.5 328.7L384.2 328.0L384.9 329.3L385.6 330.7L386.3 328.7L387.1 329.8L387.8 329.0L388.5 330.9L389.2 331.5L389.9 333.3L390.6 328.7L391.4 328.4L392.1 337.5L392.2 335.6L392.8 336.3L393.5 335.9L394.2 333.3L394.9 335.8L395.6 333.8L396.4 335.7L397.1 333.9L397.8 333.1L398.5 335.0L399.2 337.2L399.9 334.8L400.6 337.5L401.4 337.6L402.1 335.6L402.8 337.3L403.5 338.9L404.2 335.7L404.9 338.4L405.2 337.7L405.7 340.5L406.4 337.2L407.1 340.9L407.8 341.1L408.5 339.6L409.2 337.9L409.9 340.2L410.7 337.7L411.4 341.6L412.1 342.4L412.8 343.9L413.5 343.5L414.2 340.9L414.9 344.1L415.7 341.2L416.4 344.1L417.1 340.3L417.8 345.6L418.5 343.9L419.2 345.2L420.0 346.1L420.7 345.0L421.4 344.1L421.4 342.2L422.1 346.9L422.8 342.4L423.5 347.1L424.2 343.7L425.0 346.3L425.7 347.8L426.4 346.1L427.1 344.6L427.8 346.3L428.5 344.7L429.2 342.6L430.0 347.7L430.7 345.3L431.4 344.8L432.1 347.9L432.8 348.2L433.5 348.6L434.3 348.8L435.0 347.9L435.7 344.1L436.4 346.9L437.1 346.7L437.8 352.9L438.5 349.3L439.3 348.8L440.0 344.9L440.3 349.9L440.7 349.6L441.4 346.4L442.1 348.0L442.8 350.7L443.5 345.7L444.3 349.8L445.0 347.4L445.7 349.7L446.4 353.0L447.1 351.9L447.8 350.7L448.6 351.2L449.3 350.5L450.0 348.0L450.7 350.3L451.4 353.8L452.1 350.9L452.8 352.4L453.6 352.2L453.9 357.0L454.3 351.7L455.0 350.5L455.7 354.1L456.4 354.2L457.1 353.6L457.9 354.4L458.6 351.2L459.3 352.3L460.0 352.8L460.7 356.0L461.4 353.1L462.1 350.1L462.9 354.3L463.6 357.4L464.3 353.6L465.0 354.8L465.7 356.6L466.4 353.3L467.1 353.8L467.9 352.5L468.6 353.4L469.3 349.1L470.0 353.1L470.2 355.0L470.7 355.9L471.4 355.4L472.1 356.8L472.9 353.5L473.6 355.5L474.3 351.5L475.0 355.4L475.7 357.3L476.4 355.4L477.2 356.7L477.9 355.4L478.6 353.8L479.3 355.1L480.0 357.8L480.7 354.7L481.4 357.7L482.2 356.2L482.9 356.0L483.6 355.3L484.3 355.2L485.0 357.5L485.7 357.3L486.4 357.6L487.2 359.0L487.9 356.4L488.6 355.5L489.3 355.5L490.0 356.6L490.7 356.7L491.5 356.8L492.2 358.1L492.9 355.8L493.6 358.4L494.3 359.3L495.0 356.5L495.7 357.3L496.5 355.6L497.2 359.5L497.9 356.8L498.6 354.6L499.3 358.6L500.0 357.5L500.8 358.3L501.5 359.3L502.2 358.7L502.9 356.5L503.6 358.4L504.3 359.2L505.0 354.9L505.8 356.4L506.5 359.5L507.2 358.4L507.9 357.5L508.6 358.1L509.3 359.9L510.0 361.9L510.8 358.0L511.5 362.1L512.2 358.6L512.9 359.2L513.6 360.3L514.3 358.6L515.0 358.3L515.8 359.2L516.5 358.0L517.2 357.8L517.9 355.8L518.6 357.8L519.0 360.6" fill="none" stroke="#46307e" stroke-width="1.4" stroke-linejoin="round"/>
<path d="M307.7 364.5L308.4 364.5L309.1 364.5L309.8 364.5L310.6 364.0L311.3 362.5L311.6 364.1L312.0 363.1L312.7 362.5L313.4 361.7L314.1 361.2L314.2 359.5L314.8 360.1L315.6 360.7L316.3 361.6L317.0 361.0L317.7 360.5L318.4 360.4L319.1 360.0L319.9 359.5L320.6 360.4L320.7 358.4L321.3 360.1L322.0 359.2L322.7 359.7L323.4 360.9L324.1 359.9L324.9 359.6L325.6 357.8L326.3 357.9L327.0 359.4L327.2 359.5L327.7 359.8L328.4 359.4L329.1 360.5L329.9 361.1L330.6 357.6L331.3 361.5L332.0 363.2L332.1 360.3L332.7 360.4L333.4 362.1L334.2 362.3L334.9 362.5L335.3 361.9L335.6 362.2L336.3 362.9L337.0 363.4L337.7 363.7L338.2 362.9L338.4 362.4L339.2 359.8L339.9 357.0L340.6 354.7L341.3 352.2L342.0 349.2L342.7 348.2L343.4 344.5L344.2 342.6L344.4 340.5L344.9 339.4L345.6 337.1L346.3 337.0L347.0 333.1L347.7 331.5L348.0 329.6L348.5 331.5L349.2 329.9L349.9 331.1L350.6 329.5L350.9 329.1L351.3 327.9L352.0 328.8L352.7 326.7L353.5 328.8L354.2 328.5L354.9 329.0L355.6 327.5L356.3 328.6L357.0 327.7L357.8 328.5L358.4 328.8L358.5 328.6L359.2 328.4L359.9 327.3L360.6 329.4L361.3 326.5L362.0 327.4L362.8 327.6L363.5 329.3L364.2 329.7L364.9 329.4L365.6 331.0L366.3 331.3L367.0 329.5L367.2 330.2L367.8 331.5L368.5 332.3L369.2 331.6L369.9 332.7L370.6 332.8L371.3 332.9L372.1 333.1L372.8 332.9L373.5 334.0L374.2 334.1L374.9 335.3L375.6 335.4L376.3 336.0L377.1 336.2L377.8 336.1L378.5 337.9L379.2 337.6L379.8 340.1L379.9 337.5L380.6 339.3L381.3 338.3L382.1 337.4L382.8 337.9L383.5 339.3L384.2 337.9L384.9 339.9L385.6 339.4L386.3 339.8L387.1 339.6L387.8 339.8L388.5 339.0L389.2 341.4L389.9 341.4L390.6 343.4L391.4 339.6L392.1 341.5L392.2 343.5L392.8 340.6L393.5 339.9L394.2 341.2L394.9 341.8L395.6 341.6L396.4 343.1L397.1 347.2L397.8 342.4L398.5 344.1L399.2 343.7L399.9 342.8L400.6 344.4L401.4 341.5L402.1 347.2L402.8 340.0L403.5 345.5L404.2 342.1L404.9 345.2L405.2 349.8L405.7 342.8L406.4 341.8L407.1 345.5L407.8 342.6L408.5 347.4L409.2 343.2L409.9 347.4L410.7 345.2L411.4 347.0L412.1 346.0L412.8 347.1L413.5 345.9L414.2 344.1L414.9 349.3L415.7 346.5L416.4 347.0L417.1 350.5L417.8 347.6L418.5 347.7L419.2 346.1L420.0 348.9L420.7 347.5L421.4 348.8L421.4 348.1L422.1 350.0L422.8 348.5L423.5 348.3L424.2 346.4L425.0 346.9L425.7 348.8L426.4 348.2L427.1 344.2L427.8 350.5L428.5 351.5L429.2 343.9L430.0 349.3L430.7 350.5L431.4 349.6L432.1 348.5L432.8 353.0L433.5 347.1L434.3 351.1L435.0 348.7L435.7 351.3L436.4 347.5L437.1 350.6L437.8 349.1L438.5 350.6L439.3 348.6L440.0 351.1L440.3 352.7L440.7 349.9L441.4 352.0L442.1 352.4L442.8 350.8L443.5 350.9L444.3 350.1L445.0 349.8L445.7 351.7L446.4 353.8L447.1 353.7L447.8 354.4L448.6 351.2L449.3 353.6L450.0 351.5L450.7 348.9L451.4 352.7L452.1 353.6L452.8 354.1L453.6 352.7L453.9 353.4L454.3 354.8L455.0 353.9L455.7 353.8L456.4 352.5L457.1 353.8L457.9 353.3L458.6 354.6L459.3 355.0L460.0 356.2L460.7 358.9L461.4 353.8L462.1 354.9L462.9 352.7L463.6 354.0L464.3 353.8L465.0 353.3L465.7 355.0L466.4 352.0L467.1 353.8L467.9 354.9L468.6 355.9L469.3 356.0L470.0 353.5L470.2 356.2L470.7 355.4L471.4 355.9L472.1 355.5L472.9 356.8L473.6 355.7L474.3 359.1L475.0 357.0L475.7 353.9L476.4 357.3L477.2 356.4L477.9 357.4L478.6 357.6L479.3 356.5L480.0 355.0L480.7 355.9L481.4 356.7L482.2 356.8L482.9 355.8L483.6 357.4L484.3 359.0L485.0 356.1L485.7 353.8L486.4 354.9L487.2 360.1L487.9 357.6L488.6 356.4L489.3 358.4L490.0 358.6L490.7 357.1L491.5 358.1L492.2 358.8L492.9 356.2L493.6 356.6L494.3 355.9L495.0 357.0L495.7 353.5L496.5 356.9L497.2 357.6L497.9 360.5L498.6 356.0L499.3 357.0L500.0 358.7L500.8 355.1L501.5 357.6L502.2 358.7L502.9 359.6L503.6 356.4L504.3 358.2L505.0 356.4L505.8 358.2L506.5 358.5L507.2 358.6L507.9 358.4L508.6 359.8L509.3 357.3L510.0 358.0L510.8 360.7L511.5 358.2L512.2 360.9L512.9 356.9L513.6 360.7L514.3 357.8L515.0 361.4L515.8 357.7L516.5 360.9L517.2 364.5L517.9 359.1L518.6 358.5L519.0 358.6" fill="none" stroke="#23857c" stroke-width="1.4" stroke-linejoin="round"/>
<path d="M307.7 363.0L308.4 364.5L309.1 362.8L309.8 363.2L310.6 363.1L311.3 364.1L311.6 364.5L312.0 360.6L312.7 357.3L312.9 355.5L313.4 354.7L314.1 355.3L314.8 356.5L315.6 355.9L315.8 354.4L316.3 354.1L317.0 354.3L317.7 355.0L318.4 356.0L319.1 356.0L319.9 355.2L320.6 355.7L320.7 354.1L321.3 356.9L322.0 354.8L322.7 355.6L323.4 355.5L324.1 355.8L324.9 354.1L325.6 355.9L326.3 355.7L327.0 358.6L327.4 359.1L327.7 359.3L328.4 360.1L329.1 360.0L329.9 360.6L330.4 361.5L330.6 360.7L331.3 361.1L332.0 360.9L332.7 362.5L333.4 361.0L333.4 361.3L334.2 359.1L334.9 356.1L335.6 353.9L336.3 349.6L337.0 346.6L337.7 344.9L337.9 343.1L338.4 340.6L339.2 338.6L339.9 338.2L340.6 334.1L341.3 331.6L342.0 329.8L342.1 329.8L342.7 326.1L343.4 324.1L344.2 321.4L344.4 320.0L344.9 320.8L345.6 317.2L346.3 319.4L347.0 319.3L347.7 318.0L348.5 319.6L348.6 317.6L349.2 318.1L349.9 318.3L350.6 317.1L351.3 317.1L352.0 318.0L352.7 316.7L353.5 316.5L353.8 317.8L354.2 317.1L354.9 318.6L355.6 318.4L356.3 319.4L357.0 319.6L357.8 322.2L358.5 320.9L359.1 320.7L359.2 322.2L359.9 320.8L360.6 321.2L361.3 323.6L362.0 322.5L362.8 323.6L363.5 324.3L364.2 325.0L364.9 325.5L365.6 325.8L365.9 324.9L366.3 326.7L367.0 327.3L367.8 325.4L368.5 328.6L369.2 328.0L369.9 328.7L370.6 328.5L371.3 328.3L372.1 328.5L372.8 329.4L373.5 329.1L374.2 328.8L374.6 329.7L374.9 329.8L375.6 330.3L376.3 330.9L377.1 330.7L377.8 331.4L378.5 332.0L379.2 332.9L379.8 331.1L379.9 332.9L380.6 332.0L381.3 333.6L382.1 333.0L382.8 335.6L383.5 334.2L384.2 335.8L384.9 333.5L385.6 335.0L386.3 335.3L387.1 336.2L387.8 337.3L388.5 338.3L389.2 337.7L389.9 335.4L390.6 339.7L391.4 334.9L392.1 339.0L392.2 338.0L392.8 341.9L393.5 339.3L394.2 338.3L394.9 340.8L395.6 339.3L396.4 337.1L397.1 336.3L397.8 337.4L398.5 339.2L399.2 339.3L399.9 337.4L400.6 337.9L401.4 342.8L402.1 341.6L402.8 340.8L403.5 342.4L404.2 341.3L404.9 340.6L405.2 342.3L405.7 342.3L406.4 340.3L407.1 343.7L407.8 341.4L408.5 344.6L409.2 342.5L409.9 345.7L410.7 343.9L411.4 343.1L412.1 345.1L412.8 342.8L413.5 345.2L414.2 344.5L414.9 344.1L415.7 347.2L416.4 344.4L417.1 345.1L417.8 341.4L418.5 345.5L419.2 349.2L419.8 345.4L420.0 340.3L420.7 345.9L421.4 350.6L422.1 349.8L422.8 344.1L423.5 343.8L424.2 343.4L425.0 346.1L425.7 349.2L426.4 349.0L427.1 348.0L427.8 346.8L428.5 345.6L429.2 346.0L430.0 347.4L430.7 350.0L431.4 346.8L432.1 346.7L432.8 348.9L433.5 349.5L434.3 348.0L435.0 350.7L435.7 350.2L436.4 354.1L437.1 351.8L437.8 349.8L438.5 347.4L439.3 350.2L440.0 349.7L440.3 350.7L440.7 352.1L441.4 351.4L442.1 350.5L442.8 352.3L443.5 350.1L444.3 349.9L445.0 352.2L445.7 349.4L446.4 350.4L447.1 351.6L447.8 347.9L448.6 351.8L449.3 354.8L450.0 349.5L450.7 354.7L451.4 355.5L452.1 354.0L452.8 350.8L453.6 354.4L453.9 355.0L454.3 353.7L455.0 351.5L455.7 353.2L456.4 353.2L457.1 352.5L457.9 350.6L458.6 351.9L459.3 353.5L460.0 352.7L460.7 357.1L461.4 351.1L462.1 352.8L462.9 355.3L463.6 354.9L464.3 353.4L465.0 354.0L465.7 353.2L466.4 353.9L467.1 354.0L467.9 356.0L468.6 353.6L469.3 354.4L470.0 354.7L470.2 357.3L470.7 357.5L471.4 358.9L472.1 355.3L472.9 355.3L473.6 355.7L474.3 355.0L475.0 360.2L475.7 355.5L476.4 357.5L477.2 358.4L477.9 356.3L478.6 353.7L479.3 353.8L480.0 356.1L480.7 357.1L481.4 356.0L482.2 358.5L482.9 354.4L483.6 357.6L484.3 355.8L485.0 359.8L485.7 353.5L486.4 359.3L487.2 357.7L487.9 357.2L488.6 359.9L489.3 358.9L490.0 358.7L490.7 359.8L491.5 357.4L492.2 360.6L492.9 355.5L493.6 358.4L494.3 357.9L495.0 357.8L495.7 359.1L496.5 360.1L497.2 357.0L497.9 359.8L498.6 356.9L499.3 354.1L500.0 358.0L500.8 356.6L501.5 361.4L502.2 356.4L502.9 356.0L503.6 361.5L504.3 361.7L505.0 361.0L505.8 357.9L506.5 361.2L507.2 357.0L507.9 362.6L508.6 356.9L509.3 359.8L510.0 357.9L510.8 360.0L511.5 360.0L512.2 358.3L512.9 358.4L513.6 361.1L514.3 359.0L515.0 359.1L515.8 359.9L516.5 360.2L517.2 363.2L517.9 355.3L518.6 358.8L519.0 358.1" fill="none" stroke="#d81e64" stroke-width="1.4" stroke-linejoin="round"/>
<path d="M307.7 363.1L308.4 363.4L309.1 364.2L309.8 363.3L310.6 363.0L311.3 363.2L311.9 362.5L312.0 363.0L312.7 362.5L313.4 362.2L314.1 362.1L314.8 359.3L315.6 359.9L315.8 358.8L316.3 356.9L317.0 355.5L317.7 353.0L318.1 352.0L318.4 351.3L319.1 348.0L319.9 342.7L320.6 341.2L321.3 338.5L321.3 337.9L322.0 334.6L322.7 332.1L323.4 327.3L323.9 323.9L324.1 322.8L324.9 321.0L325.6 317.3L326.3 313.8L326.6 313.4L327.0 312.0L327.7 312.0L328.4 311.4L329.1 309.6L329.9 308.7L330.0 308.2L330.6 308.7L331.3 308.5L332.0 309.9L332.7 311.3L333.4 310.3L334.2 310.4L334.3 310.9L334.9 310.6L335.6 312.3L336.3 311.4L336.9 311.2L337.0 313.3L337.7 314.1L338.4 316.5L339.2 315.3L339.6 315.8L339.9 316.3L340.6 318.5L341.3 318.2L342.0 320.5L342.7 320.0L343.4 322.2L343.8 321.1L344.2 322.6L344.9 323.8L345.6 322.7L346.3 324.3L347.0 325.0L347.7 324.5L348.5 325.3L349.2 327.2L349.3 325.3L349.9 326.3L350.6 326.1L351.3 327.4L352.0 328.5L352.7 330.1L353.5 329.7L354.2 331.5L354.9 331.2L355.6 331.4L356.3 331.9L357.0 332.3L357.8 333.5L358.4 333.9L358.5 333.5L359.2 335.6L359.9 334.0L360.6 334.1L361.3 335.8L362.0 336.0L362.8 336.1L363.5 338.2L364.2 337.0L364.9 337.0L365.6 338.9L366.3 336.8L367.0 339.4L367.2 339.6L367.8 339.7L368.5 338.8L369.2 341.5L369.9 341.0L370.6 340.3L371.3 341.3L372.1 343.6L372.8 340.6L373.5 342.5L374.2 343.1L374.9 343.3L375.6 342.7L375.9 342.9L376.3 344.2L377.1 344.0L377.8 344.2L378.5 344.0L379.2 344.8L379.9 344.6L380.6 344.3L381.3 344.4L382.1 344.0L382.8 347.1L383.5 345.6L384.1 346.4L384.2 345.2L384.9 345.4L385.6 346.4L386.3 346.8L387.1 346.6L387.8 347.5L388.5 348.0L389.2 346.7L389.9 346.6L390.6 350.0L391.4 347.6L392.1 348.7L392.8 345.9L393.5 349.9L394.2 349.7L394.9 347.1L395.4 350.0L395.6 349.8L396.4 350.1L397.1 350.4L397.8 350.9L398.5 350.3L399.2 352.0L399.9 350.9L400.6 351.2L401.4 352.1L402.1 352.4L402.8 351.1L403.5 350.0L404.2 352.0L404.9 348.6L405.2 351.5L405.7 350.8L406.4 353.0L407.1 352.5L407.8 354.1L408.5 352.8L409.2 352.6L409.9 351.0L410.7 350.6L411.4 354.5L412.1 357.7L412.8 353.1L413.5 355.4L414.2 353.1L414.9 354.6L415.7 353.8L416.4 351.1L417.1 353.6L417.8 356.9L418.5 353.6L419.2 351.8L419.8 351.2L420.0 355.6L420.7 352.4L421.4 354.2L422.1 353.3L422.8 355.0L423.5 352.4L424.2 352.3L425.0 353.8L425.7 353.2L426.4 354.1L427.1 354.7L427.8 352.1L428.5 356.7L429.2 354.8L430.0 353.9L430.7 358.7L431.4 360.5L432.1 353.9L432.8 358.4L433.5 354.6L434.3 356.6L435.0 357.6L435.7 356.7L436.4 357.5L437.1 356.0L437.8 359.0L438.5 358.4L439.3 357.6L440.0 356.9L440.3 358.8L440.7 356.3L441.4 355.6L442.1 359.7L442.8 356.8L443.5 356.8L444.3 354.8L445.0 357.5L445.7 356.0L446.4 359.2L447.1 356.6L447.8 355.4L448.6 362.0L449.3 357.1L450.0 357.9L450.7 358.7L451.4 359.5L452.1 355.6L452.8 360.0L453.6 358.6L454.3 360.1L455.0 357.3L455.7 362.3L456.4 362.9L457.1 358.2L457.9 358.1L458.6 358.7L459.3 359.9L460.0 355.8L460.7 358.8L461.4 359.9L462.1 358.1L462.9 358.6L463.6 358.1L464.3 359.1L465.0 358.1L465.7 357.5L466.4 359.1L467.1 362.2L467.9 360.2L468.6 358.5L469.3 359.3L470.0 357.6L470.2 358.3L470.7 357.7L471.4 362.7L472.1 359.6L472.9 357.7L473.6 357.8L474.3 359.3L475.0 359.6L475.7 358.6L476.4 361.2L477.2 359.4L477.9 360.7L478.6 358.8L479.3 357.2L480.0 360.0L480.7 359.2L481.4 358.7L482.2 357.2L482.9 358.5L483.6 359.2L484.3 359.7L485.0 360.8L485.7 359.6L486.4 355.9L487.2 359.5L487.9 361.7L488.6 361.9L489.3 359.8L490.0 360.6L490.7 362.8L491.5 359.5L492.2 360.1L492.9 361.2L493.6 362.5L494.3 360.0L495.0 362.3L495.7 361.4L496.5 360.2L497.2 358.9L497.9 358.6L498.6 360.9L499.3 362.2L500.0 361.8L500.8 357.9L501.5 359.8L502.2 360.3L502.9 362.7L503.6 362.2L504.3 360.8L505.0 358.0L505.8 362.6L506.5 360.2L507.2 360.1L507.9 362.0L508.6 360.7L509.3 364.5L510.0 359.7L510.8 361.3L511.5 361.3L512.2 361.8L512.9 362.1L513.6 364.5L514.3 360.6L515.0 361.0L515.8 359.1L516.5 363.0L517.2 362.6L517.9 360.1L518.6 363.4L519.0 360.0" fill="none" stroke="#1a1a1a" stroke-width="1.6" stroke-linejoin="round"/>
<line x1="307.70" y1="222" x2="307.70" y2="364.75" stroke="#111" stroke-width="1.5"/>
<line x1="306.95" y1="364.00" x2="520" y2="364.00" stroke="#111" stroke-width="1.5"/>
<line x1="304.70" y1="364.00" x2="307.70" y2="364.00" stroke="#222" stroke-width="1"/>
<text transform="translate(301.4,367.00)" text-anchor="end" font-size="8.6" fill="#1a1a1a" stroke="#1a1a1a" stroke-width="0.12">0</text>
<line x1="304.70" y1="342.30" x2="307.70" y2="342.30" stroke="#222" stroke-width="1"/>
<text transform="translate(301.4,345.30)" text-anchor="end" font-size="8.6" fill="#1a1a1a" stroke="#1a1a1a" stroke-width="0.12">20</text>
<line x1="304.70" y1="320.60" x2="307.70" y2="320.60" stroke="#222" stroke-width="1"/>
<text transform="translate(301.4,323.60)" text-anchor="end" font-size="8.6" fill="#1a1a1a" stroke="#1a1a1a" stroke-width="0.12">40</text>
<line x1="304.70" y1="298.90" x2="307.70" y2="298.90" stroke="#222" stroke-width="1"/>
<text transform="translate(301.4,301.90)" text-anchor="end" font-size="8.6" fill="#1a1a1a" stroke="#1a1a1a" stroke-width="0.12">60</text>
<line x1="304.70" y1="277.20" x2="307.70" y2="277.20" stroke="#222" stroke-width="1"/>
<text transform="translate(301.4,280.20)" text-anchor="end" font-size="8.6" fill="#1a1a1a" stroke="#1a1a1a" stroke-width="0.12">80</text>
<line x1="304.70" y1="255.50" x2="307.70" y2="255.50" stroke="#222" stroke-width="1"/>
<text transform="translate(301.4,258.50)" text-anchor="end" font-size="8.6" fill="#1a1a1a" stroke="#1a1a1a" stroke-width="0.12">100</text>
<line x1="304.70" y1="233.80" x2="307.70" y2="233.80" stroke="#222" stroke-width="1"/>
<text transform="translate(301.4,236.80)" text-anchor="end" font-size="8.6" fill="#1a1a1a" stroke="#1a1a1a" stroke-width="0.12">120</text>
<line x1="307.70" y1="364.00" x2="307.70" y2="367.00" stroke="#222" stroke-width="1"/>
<text transform="translate(307.70,377.6)" text-anchor="middle" font-size="8.6" fill="#1a1a1a" stroke="#1a1a1a" stroke-width="0.12">0</text>
<line x1="340.20" y1="364.00" x2="340.20" y2="367.00" stroke="#222" stroke-width="1"/>
<text transform="translate(340.20,377.6)" text-anchor="middle" font-size="8.6" fill="#1a1a1a" stroke="#1a1a1a" stroke-width="0.12">10</text>
<line x1="372.70" y1="364.00" x2="372.70" y2="367.00" stroke="#222" stroke-width="1"/>
<text transform="translate(372.70,377.6)" text-anchor="middle" font-size="8.6" fill="#1a1a1a" stroke="#1a1a1a" stroke-width="0.12">20</text>
<line x1="405.20" y1="364.00" x2="405.20" y2="367.00" stroke="#222" stroke-width="1"/>
<text transform="translate(405.20,377.6)" text-anchor="middle" font-size="8.6" fill="#1a1a1a" stroke="#1a1a1a" stroke-width="0.12">30</text>
<line x1="437.70" y1="364.00" x2="437.70" y2="367.00" stroke="#222" stroke-width="1"/>
<text transform="translate(437.70,377.6)" text-anchor="middle" font-size="8.6" fill="#1a1a1a" stroke="#1a1a1a" stroke-width="0.12">40</text>
<line x1="470.20" y1="364.00" x2="470.20" y2="367.00" stroke="#222" stroke-width="1"/>
<text transform="translate(470.20,377.6)" text-anchor="middle" font-size="8.6" fill="#1a1a1a" stroke="#1a1a1a" stroke-width="0.12">50</text>
<line x1="502.70" y1="364.00" x2="502.70" y2="367.00" stroke="#222" stroke-width="1"/>
<text transform="translate(502.70,377.6)" text-anchor="middle" font-size="8.6" fill="#1a1a1a" stroke="#1a1a1a" stroke-width="0.12">60</text>
<text x="413.4" y="391.0" text-anchor="middle" font-size="9.2" fill="#1a1a1a" stroke="#1a1a1a" stroke-width="0.3" textLength="41.5" lengthAdjust="spacingAndGlyphs">Time (minute)</text>
<text transform="translate(279.9,293.8) rotate(-90)" x="0" y="0" text-anchor="middle" font-size="9.2" fill="#1a1a1a" stroke="#1a1a1a" stroke-width="0.3" textLength="45.7" lengthAdjust="spacingAndGlyphs">Thrombin (nM)</text>
<text x="272.4" y="213.0" font-size="12" font-weight="bold" fill="#000" stroke="#000" stroke-width="0.45">D</text>
<line x1="449.8" y1="231.50" x2="462.3" y2="231.50" stroke="#222222" stroke-width="1.1"/>
<text x="465.9" y="234.20" font-size="8.1" fill="#1a1a1a" stroke="#1a1a1a" stroke-width="0.15" textLength="31.2" lengthAdjust="spacingAndGlyphs">0.5pM TF</text>
<line x1="449.8" y1="242.80" x2="462.3" y2="242.80" stroke="#dc5a8e" stroke-width="1.5"/>
<text x="465.9" y="245.50" font-size="8.1" fill="#1a1a1a" stroke="#1a1a1a" stroke-width="0.15" textLength="31.5" lengthAdjust="spacingAndGlyphs">0.1pM TF</text>
<line x1="449.8" y1="254.10" x2="462.3" y2="254.10" stroke="#4aa09c" stroke-width="1.2"/>
<text x="465.9" y="256.80" font-size="8.1" fill="#1a1a1a" stroke="#1a1a1a" stroke-width="0.15" textLength="36.2" lengthAdjust="spacingAndGlyphs">0.05pM TF</text>
<line x1="449.8" y1="265.40" x2="462.3" y2="265.40" stroke="#3c3458" stroke-width="1.1"/>
<text x="465.9" y="268.10" font-size="8.1" fill="#1a1a1a" stroke="#1a1a1a" stroke-width="0.15" textLength="45.3" lengthAdjust="spacingAndGlyphs">0.0125pM TF</text>
<line x1="449.8" y1="276.70" x2="462.3" y2="276.70" stroke="#a796c8" stroke-width="1.5"/>
<text x="465.9" y="279.40" font-size="8.1" fill="#1a1a1a" stroke="#1a1a1a" stroke-width="0.15" textLength="19.5" lengthAdjust="spacingAndGlyphs">Buffer</text>
</svg></body></html>
